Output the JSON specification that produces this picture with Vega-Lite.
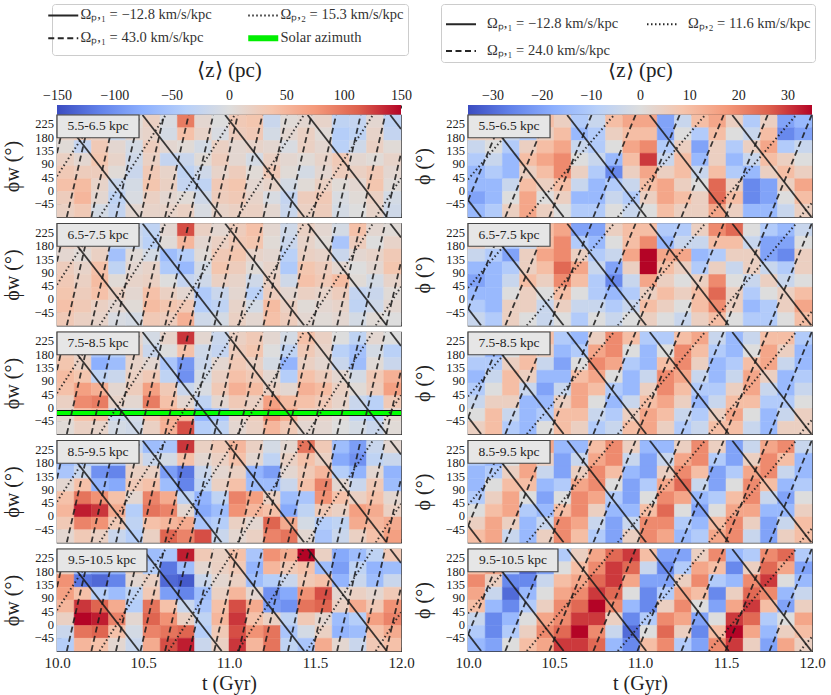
{
  "$schema": "https://vega.github.io/schema/vega-lite/v6.json",
  "background": "white",
  "padding": {"top": 3, "left": 1, "right": 2, "bottom": 3},
  "spacing": -3,
  "resolve": {"scale": {"fill": "independent", "stroke": "independent", "strokeDash": "independent"}},
  "config": {
    "font": "Liberation Serif",
    "view": {"stroke": "#333333", "strokeWidth": 1.2},
    "axis": {"labelFont": "Liberation Serif", "titleFont": "Liberation Serif", "labelColor": "#222222", "titleColor": "#222222", "titleFontWeight": "normal", "grid": false, "domain": false, "labelFlush": false, "tickColor": "#333333"},
    "legend": {"labelFont": "Liberation Serif"},
    "text": {"font": "Liberation Serif"}
  },
  "datasets": {
    "yticks": [{"v":-45},{"v":0},{"v":45},{"v":90},{"v":135},{"v":180},{"v":225}],
    "linesL": [
      {"k":"a","g":1,"t":10.0173,"f":257},{"k":"a","g":1,"t":10.4773,"f":-88},
      {"k":"a","g":2,"t":10.4973,"f":257},{"k":"a","g":2,"t":10.9573,"f":-88},
      {"k":"a","g":3,"t":10.9773,"f":257},{"k":"a","g":3,"t":11.4373,"f":-88},
      {"k":"a","g":4,"t":11.4573,"f":257},{"k":"a","g":4,"t":11.9173,"f":-88},
      {"k":"a","g":5,"t":11.9373,"f":257},{"k":"a","g":5,"t":12,"f":210},
      {"k":"b","g":6,"t":10,"f":128},{"k":"b","g":6,"t":10.0512,"f":257},
      {"k":"b","g":7,"t":10.0571,"f":-88},{"k":"b","g":7,"t":10.194,"f":257},
      {"k":"b","g":8,"t":10.2,"f":-88},{"k":"b","g":8,"t":10.3369,"f":257},
      {"k":"b","g":9,"t":10.3429,"f":-88},{"k":"b","g":9,"t":10.4797,"f":257},
      {"k":"b","g":10,"t":10.4857,"f":-88},{"k":"b","g":10,"t":10.6226,"f":257},
      {"k":"b","g":11,"t":10.6286,"f":-88},{"k":"b","g":11,"t":10.7654,"f":257},
      {"k":"b","g":12,"t":10.7714,"f":-88},{"k":"b","g":12,"t":10.9083,"f":257},
      {"k":"b","g":13,"t":10.9143,"f":-88},{"k":"b","g":13,"t":11.0511,"f":257},
      {"k":"b","g":14,"t":11.0571,"f":-88},{"k":"b","g":14,"t":11.194,"f":257},
      {"k":"b","g":15,"t":11.2,"f":-88},{"k":"b","g":15,"t":11.3369,"f":257},
      {"k":"b","g":16,"t":11.3429,"f":-88},{"k":"b","g":16,"t":11.4797,"f":257},
      {"k":"b","g":17,"t":11.4857,"f":-88},{"k":"b","g":17,"t":11.6226,"f":257},
      {"k":"b","g":18,"t":11.6286,"f":-88},{"k":"b","g":18,"t":11.7654,"f":257},
      {"k":"b","g":19,"t":11.7714,"f":-88},{"k":"b","g":19,"t":11.9083,"f":257},
      {"k":"b","g":20,"t":11.9143,"f":-88},{"k":"b","g":20,"t":12,"f":128},
      {"k":"c","g":21,"t":10,"f":50},{"k":"c","g":21,"t":10.2308,"f":257},
      {"k":"c","g":22,"t":10.2475,"f":-88},{"k":"c","g":22,"t":10.6321,"f":257},
      {"k":"c","g":23,"t":10.649,"f":-88},{"k":"c","g":23,"t":11.0336,"f":257},
      {"k":"c","g":24,"t":11.0505,"f":-88},{"k":"c","g":24,"t":11.4351,"f":257},
      {"k":"c","g":25,"t":11.452,"f":-88},{"k":"c","g":25,"t":11.8366,"f":257},
      {"k":"c","g":26,"t":11.8535,"f":-88},{"k":"c","g":26,"t":12,"f":43}
    ],
    "linesR": [
      {"k":"a","g":1,"t":10,"f":-31},{"k":"a","g":1,"t":10.0763,"f":-88},
      {"k":"a","g":2,"t":10.0963,"f":257},{"k":"a","g":2,"t":10.5563,"f":-88},
      {"k":"a","g":3,"t":10.5763,"f":257},{"k":"a","g":3,"t":11.0363,"f":-88},
      {"k":"a","g":4,"t":11.0563,"f":257},{"k":"a","g":4,"t":11.5163,"f":-88},
      {"k":"a","g":5,"t":11.5363,"f":257},{"k":"a","g":5,"t":11.9963,"f":-88},
      {"k":"b","g":6,"t":10,"f":-33},{"k":"b","g":6,"t":10.2064,"f":257},
      {"k":"b","g":7,"t":10.217,"f":-88},{"k":"b","g":7,"t":10.4624,"f":257},
      {"k":"b","g":8,"t":10.473,"f":-88},{"k":"b","g":8,"t":10.7184,"f":257},
      {"k":"b","g":9,"t":10.729,"f":-88},{"k":"b","g":9,"t":10.9744,"f":257},
      {"k":"b","g":10,"t":10.985,"f":-88},{"k":"b","g":10,"t":11.2304,"f":257},
      {"k":"b","g":11,"t":11.241,"f":-88},{"k":"b","g":11,"t":11.4864,"f":257},
      {"k":"b","g":12,"t":11.497,"f":-88},{"k":"b","g":12,"t":11.7424,"f":257},
      {"k":"b","g":13,"t":11.753,"f":-88},{"k":"b","g":13,"t":11.9984,"f":257},
      {"k":"c","g":14,"t":10,"f":39},{"k":"c","g":14,"t":10.32,"f":257},
      {"k":"c","g":15,"t":10.342,"f":-88},{"k":"c","g":15,"t":10.849,"f":257},
      {"k":"c","g":16,"t":10.871,"f":-88},{"k":"c","g":16,"t":11.379,"f":257},
      {"k":"c","g":17,"t":11.401,"f":-88},{"k":"c","g":17,"t":11.908,"f":257},
      {"k":"c","g":18,"t":11.93,"f":-88},{"k":"c","g":18,"t":12,"f":-40}
    ],
    "L1": [
      {"i":0,"j":7,"z":10},{"i":1,"j":7,"z":20},{"i":2,"j":7,"z":15},{"i":3,"j":7,"z":-10},{"i":4,"j":7,"z":5},{"i":5,"j":7,"z":20},{"i":6,"j":7,"z":-5},{"i":7,"j":7,"z":95},{"i":8,"j":7,"z":10},{"i":9,"j":7,"z":0},{"i":10,"j":7,"z":30},{"i":11,"j":7,"z":35},{"i":12,"j":7,"z":-20},{"i":13,"j":7,"z":5},{"i":14,"j":7,"z":10},{"i":15,"j":7,"z":15},{"i":16,"j":7,"z":-30},{"i":17,"j":7,"z":-25},{"i":18,"j":7,"z":10},{"i":19,"j":7,"z":-30},
      {"i":0,"j":6,"z":15},{"i":1,"j":6,"z":25},{"i":2,"j":6,"z":20},{"i":3,"j":6,"z":-15},{"i":4,"j":6,"z":10},{"i":5,"j":6,"z":15},{"i":6,"j":6,"z":-10},{"i":7,"j":6,"z":40},{"i":8,"j":6,"z":15},{"i":9,"j":6,"z":-5},{"i":10,"j":6,"z":25},{"i":11,"j":6,"z":30},{"i":12,"j":6,"z":-10},{"i":13,"j":6,"z":10},{"i":14,"j":6,"z":20},{"i":15,"j":6,"z":5},{"i":16,"j":6,"z":-40},{"i":17,"j":6,"z":-30},{"i":18,"j":6,"z":15},{"i":19,"j":6,"z":-25},
      {"i":0,"j":5,"z":5},{"i":1,"j":5,"z":-25},{"i":2,"j":5,"z":30},{"i":3,"j":5,"z":10},{"i":4,"j":5,"z":-10},{"i":5,"j":5,"z":25},{"i":6,"j":5,"z":10},{"i":7,"j":5,"z":5},{"i":8,"j":5,"z":-10},{"i":9,"j":5,"z":20},{"i":10,"j":5,"z":10},{"i":11,"j":5,"z":15},{"i":12,"j":5,"z":10},{"i":13,"j":5,"z":-5},{"i":14,"j":5,"z":20},{"i":15,"j":5,"z":10},{"i":16,"j":5,"z":-35},{"i":17,"j":5,"z":-15},{"i":18,"j":5,"z":20},{"i":19,"j":5,"z":5},
      {"i":0,"j":4,"z":20},{"i":1,"j":4,"z":10},{"i":2,"j":4,"z":35},{"i":3,"j":4,"z":15},{"i":4,"j":4,"z":-15},{"i":5,"j":4,"z":20},{"i":6,"j":4,"z":-25},{"i":7,"j":4,"z":-20},{"i":8,"j":4,"z":5},{"i":9,"j":4,"z":25},{"i":10,"j":4,"z":10},{"i":11,"j":4,"z":-10},{"i":12,"j":4,"z":20},{"i":13,"j":4,"z":10},{"i":14,"j":4,"z":5},{"i":15,"j":4,"z":15},{"i":16,"j":4,"z":30},{"i":17,"j":4,"z":10},{"i":18,"j":4,"z":5},{"i":19,"j":4,"z":15},
      {"i":0,"j":3,"z":30},{"i":1,"j":3,"z":25},{"i":2,"j":3,"z":25},{"i":3,"j":3,"z":5},{"i":4,"j":3,"z":-20},{"i":5,"j":3,"z":30},{"i":6,"j":3,"z":15},{"i":7,"j":3,"z":-30},{"i":8,"j":3,"z":-15},{"i":9,"j":3,"z":15},{"i":10,"j":3,"z":25},{"i":11,"j":3,"z":5},{"i":12,"j":3,"z":30},{"i":13,"j":3,"z":5},{"i":14,"j":3,"z":-10},{"i":15,"j":3,"z":10},{"i":16,"j":3,"z":25},{"i":17,"j":3,"z":20},{"i":18,"j":3,"z":30},{"i":19,"j":3,"z":10},
      {"i":0,"j":2,"z":40},{"i":1,"j":2,"z":45},{"i":2,"j":2,"z":15},{"i":3,"j":2,"z":-20},{"i":4,"j":2,"z":-10},{"i":5,"j":2,"z":35},{"i":6,"j":2,"z":20},{"i":7,"j":2,"z":-25},{"i":8,"j":2,"z":-30},{"i":9,"j":2,"z":30},{"i":10,"j":2,"z":35},{"i":11,"j":2,"z":10},{"i":12,"j":2,"z":15},{"i":13,"j":2,"z":-10},{"i":14,"j":2,"z":5},{"i":15,"j":2,"z":20},{"i":16,"j":2,"z":5},{"i":17,"j":2,"z":10},{"i":18,"j":2,"z":35},{"i":19,"j":2,"z":5},
      {"i":0,"j":1,"z":25},{"i":1,"j":1,"z":50},{"i":2,"j":1,"z":10},{"i":3,"j":1,"z":-30},{"i":4,"j":1,"z":-5},{"i":5,"j":1,"z":20},{"i":6,"j":1,"z":10},{"i":7,"j":1,"z":5},{"i":8,"j":1,"z":-15},{"i":9,"j":1,"z":25},{"i":10,"j":1,"z":30},{"i":11,"j":1,"z":15},{"i":12,"j":1,"z":-5},{"i":13,"j":1,"z":-25},{"i":14,"j":1,"z":25},{"i":15,"j":1,"z":30},{"i":16,"j":1,"z":-5},{"i":17,"j":1,"z":5},{"i":18,"j":1,"z":20},{"i":19,"j":1,"z":-10},
      {"i":0,"j":0,"z":20},{"i":1,"j":0,"z":30},{"i":2,"j":0,"z":-10},{"i":3,"j":0,"z":-25},{"i":4,"j":0,"z":10},{"i":5,"j":0,"z":15},{"i":6,"j":0,"z":15},{"i":7,"j":0,"z":20},{"i":8,"j":0,"z":-5},{"i":9,"j":0,"z":15},{"i":10,"j":0,"z":20},{"i":11,"j":0,"z":20},{"i":12,"j":0,"z":10},{"i":13,"j":0,"z":-20},{"i":14,"j":0,"z":20},{"i":15,"j":0,"z":25},{"i":16,"j":0,"z":-10},{"i":17,"j":0,"z":0},{"i":18,"j":0,"z":15},{"i":19,"j":0,"z":-15}
    ],
    "L2": [
      {"i":0,"j":7,"z":15},{"i":1,"j":7,"z":20},{"i":2,"j":7,"z":10},{"i":3,"j":7,"z":0},{"i":4,"j":7,"z":-20},{"i":5,"j":7,"z":-30},{"i":6,"j":7,"z":10},{"i":7,"j":7,"z":120},{"i":8,"j":7,"z":20},{"i":9,"j":7,"z":10},{"i":10,"j":7,"z":25},{"i":11,"j":7,"z":40},{"i":12,"j":7,"z":10},{"i":13,"j":7,"z":-15},{"i":14,"j":7,"z":20},{"i":15,"j":7,"z":10},{"i":16,"j":7,"z":-10},{"i":17,"j":7,"z":40},{"i":18,"j":7,"z":10},{"i":19,"j":7,"z":5},
      {"i":0,"j":6,"z":20},{"i":1,"j":6,"z":15},{"i":2,"j":6,"z":15},{"i":3,"j":6,"z":-25},{"i":4,"j":6,"z":-15},{"i":5,"j":6,"z":-35},{"i":6,"j":6,"z":5},{"i":7,"j":6,"z":50},{"i":8,"j":6,"z":10},{"i":9,"j":6,"z":20},{"i":10,"j":6,"z":30},{"i":11,"j":6,"z":35},{"i":12,"j":6,"z":5},{"i":13,"j":6,"z":-20},{"i":14,"j":6,"z":15},{"i":15,"j":6,"z":5},{"i":16,"j":6,"z":-50},{"i":17,"j":6,"z":25},{"i":18,"j":6,"z":0},{"i":19,"j":6,"z":15},
      {"i":0,"j":5,"z":10},{"i":1,"j":5,"z":5},{"i":2,"j":5,"z":20},{"i":3,"j":5,"z":-55},{"i":4,"j":5,"z":5},{"i":5,"j":5,"z":-10},{"i":6,"j":5,"z":-60},{"i":7,"j":5,"z":-40},{"i":8,"j":5,"z":5},{"i":9,"j":5,"z":30},{"i":10,"j":5,"z":35},{"i":11,"j":5,"z":15},{"i":12,"j":5,"z":10},{"i":13,"j":5,"z":-35},{"i":14,"j":5,"z":20},{"i":15,"j":5,"z":15},{"i":16,"j":5,"z":-20},{"i":17,"j":5,"z":10},{"i":18,"j":5,"z":15},{"i":19,"j":5,"z":30},
      {"i":0,"j":4,"z":25},{"i":1,"j":4,"z":15},{"i":2,"j":4,"z":40},{"i":3,"j":4,"z":-30},{"i":4,"j":4,"z":10},{"i":5,"j":4,"z":15},{"i":6,"j":4,"z":-45},{"i":7,"j":4,"z":-65},{"i":8,"j":4,"z":-10},{"i":9,"j":4,"z":35},{"i":10,"j":4,"z":25},{"i":11,"j":4,"z":5},{"i":12,"j":4,"z":15},{"i":13,"j":4,"z":-45},{"i":14,"j":4,"z":35},{"i":15,"j":4,"z":25},{"i":16,"j":4,"z":10},{"i":17,"j":4,"z":0},{"i":18,"j":4,"z":10},{"i":19,"j":4,"z":35},
      {"i":0,"j":3,"z":30},{"i":1,"j":3,"z":20},{"i":2,"j":3,"z":45},{"i":3,"j":3,"z":5},{"i":4,"j":3,"z":15},{"i":5,"j":3,"z":20},{"i":6,"j":3,"z":0},{"i":7,"j":3,"z":-25},{"i":8,"j":3,"z":-15},{"i":9,"j":3,"z":20},{"i":10,"j":3,"z":15},{"i":11,"j":3,"z":-15},{"i":12,"j":3,"z":20},{"i":13,"j":3,"z":-15},{"i":14,"j":3,"z":40},{"i":15,"j":3,"z":30},{"i":16,"j":3,"z":45},{"i":17,"j":3,"z":5},{"i":18,"j":3,"z":-10},{"i":19,"j":3,"z":15},
      {"i":0,"j":2,"z":35},{"i":1,"j":2,"z":25},{"i":2,"j":2,"z":40},{"i":3,"j":2,"z":20},{"i":4,"j":2,"z":10},{"i":5,"j":2,"z":40},{"i":6,"j":2,"z":20},{"i":7,"j":2,"z":10},{"i":8,"j":2,"z":-45},{"i":9,"j":2,"z":-20},{"i":10,"j":2,"z":10},{"i":11,"j":2,"z":-35},{"i":12,"j":2,"z":25},{"i":13,"j":2,"z":10},{"i":14,"j":2,"z":20},{"i":15,"j":2,"z":15},{"i":16,"j":2,"z":25},{"i":17,"j":2,"z":-25},{"i":18,"j":2,"z":-20},{"i":19,"j":2,"z":5},
      {"i":0,"j":1,"z":40},{"i":1,"j":1,"z":30},{"i":2,"j":1,"z":20},{"i":3,"j":1,"z":10},{"i":4,"j":1,"z":5},{"i":5,"j":1,"z":45},{"i":6,"j":1,"z":35},{"i":7,"j":1,"z":30},{"i":8,"j":1,"z":-40},{"i":9,"j":1,"z":-30},{"i":10,"j":1,"z":15},{"i":11,"j":1,"z":-10},{"i":12,"j":1,"z":45},{"i":13,"j":1,"z":20},{"i":14,"j":1,"z":5},{"i":15,"j":1,"z":10},{"i":16,"j":1,"z":15},{"i":17,"j":1,"z":-30},{"i":18,"j":1,"z":-15},{"i":19,"j":1,"z":10},
      {"i":0,"j":0,"z":30},{"i":1,"j":0,"z":20},{"i":2,"j":0,"z":15},{"i":3,"j":0,"z":-5},{"i":4,"j":0,"z":-10},{"i":5,"j":0,"z":30},{"i":6,"j":0,"z":25},{"i":7,"j":0,"z":55},{"i":8,"j":0,"z":-15},{"i":9,"j":0,"z":-10},{"i":10,"j":0,"z":20},{"i":11,"j":0,"z":10},{"i":12,"j":0,"z":40},{"i":13,"j":0,"z":25},{"i":14,"j":0,"z":10},{"i":15,"j":0,"z":5},{"i":16,"j":0,"z":10},{"i":17,"j":0,"z":-10},{"i":18,"j":0,"z":5},{"i":19,"j":0,"z":0}
    ],
    "L3": [
      {"i":0,"j":7,"z":20},{"i":1,"j":7,"z":10},{"i":2,"j":7,"z":-10},{"i":3,"j":7,"z":-20},{"i":4,"j":7,"z":10},{"i":5,"j":7,"z":-10},{"i":6,"j":7,"z":15},{"i":7,"j":7,"z":130},{"i":8,"j":7,"z":10},{"i":9,"j":7,"z":-20},{"i":10,"j":7,"z":20},{"i":11,"j":7,"z":30},{"i":12,"j":7,"z":10},{"i":13,"j":7,"z":-10},{"i":14,"j":7,"z":40},{"i":15,"j":7,"z":20},{"i":16,"j":7,"z":0},{"i":17,"j":7,"z":-30},{"i":18,"j":7,"z":10},{"i":19,"j":7,"z":0},
      {"i":0,"j":6,"z":30},{"i":1,"j":6,"z":15},{"i":2,"j":6,"z":-50},{"i":3,"j":6,"z":-40},{"i":4,"j":6,"z":20},{"i":5,"j":6,"z":-20},{"i":6,"j":6,"z":0},{"i":7,"j":6,"z":40},{"i":8,"j":6,"z":-15},{"i":9,"j":6,"z":-25},{"i":10,"j":6,"z":25},{"i":11,"j":6,"z":35},{"i":12,"j":6,"z":0},{"i":13,"j":6,"z":-30},{"i":14,"j":6,"z":30},{"i":15,"j":6,"z":15},{"i":16,"j":6,"z":-35},{"i":17,"j":6,"z":-55},{"i":18,"j":6,"z":-10},{"i":19,"j":6,"z":-35},
      {"i":0,"j":5,"z":35},{"i":1,"j":5,"z":20},{"i":2,"j":5,"z":-75},{"i":3,"j":5,"z":-60},{"i":4,"j":5,"z":15},{"i":5,"j":5,"z":10},{"i":6,"j":5,"z":-50},{"i":7,"j":5,"z":-95},{"i":8,"j":5,"z":-20},{"i":9,"j":5,"z":10},{"i":10,"j":5,"z":30},{"i":11,"j":5,"z":20},{"i":12,"j":5,"z":-10},{"i":13,"j":5,"z":-70},{"i":14,"j":5,"z":20},{"i":15,"j":5,"z":10},{"i":16,"j":5,"z":-20},{"i":17,"j":5,"z":-60},{"i":18,"j":5,"z":5},{"i":19,"j":5,"z":-20},
      {"i":0,"j":4,"z":45},{"i":1,"j":4,"z":35},{"i":2,"j":4,"z":-30},{"i":3,"j":4,"z":-20},{"i":4,"j":4,"z":20},{"i":5,"j":4,"z":30},{"i":6,"j":4,"z":-30},{"i":7,"j":4,"z":-100},{"i":8,"j":4,"z":-10},{"i":9,"j":4,"z":20},{"i":10,"j":4,"z":40},{"i":11,"j":4,"z":30},{"i":12,"j":4,"z":10},{"i":13,"j":4,"z":-40},{"i":14,"j":4,"z":40},{"i":15,"j":4,"z":25},{"i":16,"j":4,"z":10},{"i":17,"j":4,"z":-10},{"i":18,"j":4,"z":30},{"i":19,"j":4,"z":55},
      {"i":0,"j":3,"z":40},{"i":1,"j":3,"z":70},{"i":2,"j":3,"z":55},{"i":3,"j":3,"z":10},{"i":4,"j":3,"z":25},{"i":5,"j":3,"z":70},{"i":6,"j":3,"z":30},{"i":7,"j":3,"z":-20},{"i":8,"j":3,"z":-5},{"i":9,"j":3,"z":30},{"i":10,"j":3,"z":55},{"i":11,"j":3,"z":45},{"i":12,"j":3,"z":20},{"i":13,"j":3,"z":10},{"i":14,"j":3,"z":55},{"i":15,"j":3,"z":45},{"i":16,"j":3,"z":20},{"i":17,"j":3,"z":5},{"i":18,"j":3,"z":25},{"i":19,"j":3,"z":70},
      {"i":0,"j":2,"z":20},{"i":1,"j":2,"z":85},{"i":2,"j":2,"z":95},{"i":3,"j":2,"z":15},{"i":4,"j":2,"z":10},{"i":5,"j":2,"z":95},{"i":6,"j":2,"z":40},{"i":7,"j":2,"z":10},{"i":8,"j":2,"z":-30},{"i":9,"j":2,"z":10},{"i":10,"j":2,"z":30},{"i":11,"j":2,"z":20},{"i":12,"j":2,"z":70},{"i":13,"j":2,"z":45},{"i":14,"j":2,"z":40},{"i":15,"j":2,"z":30},{"i":16,"j":2,"z":15},{"i":17,"j":2,"z":-20},{"i":18,"j":2,"z":-35},{"i":19,"j":2,"z":30},
      {"i":0,"j":1,"z":10},{"i":1,"j":1,"z":40},{"i":2,"j":1,"z":50},{"i":3,"j":1,"z":-20},{"i":4,"j":1,"z":-10},{"i":5,"j":1,"z":40},{"i":6,"j":1,"z":60},{"i":7,"j":1,"z":50},{"i":8,"j":1,"z":-70},{"i":9,"j":1,"z":-50},{"i":10,"j":1,"z":15},{"i":11,"j":1,"z":25},{"i":12,"j":1,"z":85},{"i":13,"j":1,"z":60},{"i":14,"j":1,"z":20},{"i":15,"j":1,"z":15},{"i":16,"j":1,"z":5},{"i":17,"j":1,"z":-25},{"i":18,"j":1,"z":-40},{"i":19,"j":1,"z":10},
      {"i":0,"j":0,"z":5},{"i":1,"j":0,"z":20},{"i":2,"j":0,"z":15},{"i":3,"j":0,"z":-10},{"i":4,"j":0,"z":-15},{"i":5,"j":0,"z":20},{"i":6,"j":0,"z":55},{"i":7,"j":0,"z":120},{"i":8,"j":0,"z":-40},{"i":9,"j":0,"z":-30},{"i":10,"j":0,"z":10},{"i":11,"j":0,"z":20},{"i":12,"j":0,"z":50},{"i":13,"j":0,"z":30},{"i":14,"j":0,"z":10},{"i":15,"j":0,"z":10},{"i":16,"j":0,"z":0},{"i":17,"j":0,"z":-10},{"i":18,"j":0,"z":-20},{"i":19,"j":0,"z":5}
    ],
    "L4": [
      {"i":0,"j":7,"z":-20},{"i":1,"j":7,"z":-30},{"i":2,"j":7,"z":10},{"i":3,"j":7,"z":20},{"i":4,"j":7,"z":-20},{"i":5,"j":7,"z":-60},{"i":6,"j":7,"z":-50},{"i":7,"j":7,"z":130},{"i":8,"j":7,"z":20},{"i":9,"j":7,"z":30},{"i":10,"j":7,"z":50},{"i":11,"j":7,"z":20},{"i":12,"j":7,"z":-10},{"i":13,"j":7,"z":10},{"i":14,"j":7,"z":100},{"i":15,"j":7,"z":30},{"i":16,"j":7,"z":-60},{"i":17,"j":7,"z":-90},{"i":18,"j":7,"z":-20},{"i":19,"j":7,"z":10},
      {"i":0,"j":6,"z":-60},{"i":1,"j":6,"z":-40},{"i":2,"j":6,"z":-30},{"i":3,"j":6,"z":-50},{"i":4,"j":6,"z":10},{"i":5,"j":6,"z":-20},{"i":6,"j":6,"z":-10},{"i":7,"j":6,"z":40},{"i":8,"j":6,"z":10},{"i":9,"j":6,"z":20},{"i":10,"j":6,"z":40},{"i":11,"j":6,"z":10},{"i":12,"j":6,"z":-30},{"i":13,"j":6,"z":20},{"i":14,"j":6,"z":40},{"i":15,"j":6,"z":20},{"i":16,"j":6,"z":-80},{"i":17,"j":6,"z":-100},{"i":18,"j":6,"z":-30},{"i":19,"j":6,"z":-20},
      {"i":0,"j":5,"z":-50},{"i":1,"j":5,"z":-20},{"i":2,"j":5,"z":-100},{"i":3,"j":5,"z":-110},{"i":4,"j":5,"z":20},{"i":5,"j":5,"z":20},{"i":6,"j":5,"z":-90},{"i":7,"j":5,"z":-120},{"i":8,"j":5,"z":-20},{"i":9,"j":5,"z":10},{"i":10,"j":5,"z":20},{"i":11,"j":5,"z":-70},{"i":12,"j":5,"z":-90},{"i":13,"j":5,"z":10},{"i":14,"j":5,"z":30},{"i":15,"j":5,"z":50},{"i":16,"j":5,"z":-40},{"i":17,"j":5,"z":-70},{"i":18,"j":5,"z":10},{"i":19,"j":5,"z":-70},
      {"i":0,"j":4,"z":10},{"i":1,"j":4,"z":40},{"i":2,"j":4,"z":-70},{"i":3,"j":4,"z":-80},{"i":4,"j":4,"z":30},{"i":5,"j":4,"z":40},{"i":6,"j":4,"z":-60},{"i":7,"j":4,"z":-110},{"i":8,"j":4,"z":-30},{"i":9,"j":4,"z":20},{"i":10,"j":4,"z":40},{"i":11,"j":4,"z":-60},{"i":12,"j":4,"z":-60},{"i":13,"j":4,"z":-20},{"i":14,"j":4,"z":40},{"i":15,"j":4,"z":90},{"i":16,"j":4,"z":10},{"i":17,"j":4,"z":-20},{"i":18,"j":4,"z":30},{"i":19,"j":4,"z":-60},
      {"i":0,"j":3,"z":40},{"i":1,"j":3,"z":100},{"i":2,"j":3,"z":80},{"i":3,"j":3,"z":40},{"i":4,"j":3,"z":10},{"i":5,"j":3,"z":90},{"i":6,"j":3,"z":60},{"i":7,"j":3,"z":-30},{"i":8,"j":3,"z":-70},{"i":9,"j":3,"z":-30},{"i":10,"j":3,"z":90},{"i":11,"j":3,"z":70},{"i":12,"j":3,"z":20},{"i":13,"j":3,"z":-60},{"i":14,"j":3,"z":-50},{"i":15,"j":3,"z":80},{"i":16,"j":3,"z":40},{"i":17,"j":3,"z":20},{"i":18,"j":3,"z":40},{"i":19,"j":3,"z":10},
      {"i":0,"j":2,"z":50},{"i":1,"j":2,"z":140},{"i":2,"j":2,"z":130},{"i":3,"j":2,"z":60},{"i":4,"j":2,"z":-40},{"i":5,"j":2,"z":100},{"i":6,"j":2,"z":90},{"i":7,"j":2,"z":10},{"i":8,"j":2,"z":-80},{"i":9,"j":2,"z":-60},{"i":10,"j":2,"z":80},{"i":11,"j":2,"z":50},{"i":12,"j":2,"z":40},{"i":13,"j":2,"z":-80},{"i":14,"j":2,"z":-30},{"i":15,"j":2,"z":30},{"i":16,"j":2,"z":20},{"i":17,"j":2,"z":70},{"i":18,"j":2,"z":60},{"i":19,"j":2,"z":20},
      {"i":0,"j":1,"z":30},{"i":1,"j":1,"z":90},{"i":2,"j":1,"z":80},{"i":3,"j":1,"z":30},{"i":4,"j":1,"z":-30},{"i":5,"j":1,"z":40},{"i":6,"j":1,"z":50},{"i":7,"j":1,"z":60},{"i":8,"j":1,"z":-50},{"i":9,"j":1,"z":-40},{"i":10,"j":1,"z":20},{"i":11,"j":1,"z":10},{"i":12,"j":1,"z":110},{"i":13,"j":1,"z":60},{"i":14,"j":1,"z":-10},{"i":15,"j":1,"z":-40},{"i":16,"j":1,"z":-30},{"i":17,"j":1,"z":60},{"i":18,"j":1,"z":50},{"i":19,"j":1,"z":60},
      {"i":0,"j":0,"z":10},{"i":1,"j":0,"z":30},{"i":2,"j":0,"z":20},{"i":3,"j":0,"z":-20},{"i":4,"j":0,"z":-40},{"i":5,"j":0,"z":20},{"i":6,"j":0,"z":110},{"i":7,"j":0,"z":90},{"i":8,"j":0,"z":120},{"i":9,"j":0,"z":-20},{"i":10,"j":0,"z":10},{"i":11,"j":0,"z":20},{"i":12,"j":0,"z":90},{"i":13,"j":0,"z":100},{"i":14,"j":0,"z":10},{"i":15,"j":0,"z":-50},{"i":16,"j":0,"z":-20},{"i":17,"j":0,"z":20},{"i":18,"j":0,"z":40},{"i":19,"j":0,"z":70}
    ],
    "L5": [
      {"i":0,"j":7,"z":10},{"i":1,"j":7,"z":-20},{"i":2,"j":7,"z":-30},{"i":3,"j":7,"z":-10},{"i":4,"j":7,"z":-20},{"i":5,"j":7,"z":-60},{"i":6,"j":7,"z":-50},{"i":7,"j":7,"z":140},{"i":8,"j":7,"z":30},{"i":9,"j":7,"z":20},{"i":10,"j":7,"z":40},{"i":11,"j":7,"z":-50},{"i":12,"j":7,"z":80},{"i":13,"j":7,"z":60},{"i":14,"j":7,"z":150},{"i":15,"j":7,"z":20},{"i":16,"j":7,"z":-80},{"i":17,"j":7,"z":-60},{"i":18,"j":7,"z":-30},{"i":19,"j":7,"z":30},
      {"i":0,"j":6,"z":20},{"i":1,"j":6,"z":-60},{"i":2,"j":6,"z":-80},{"i":3,"j":6,"z":-70},{"i":4,"j":6,"z":20},{"i":5,"j":6,"z":-40},{"i":6,"j":6,"z":-120},{"i":7,"j":6,"z":-60},{"i":8,"j":6,"z":10},{"i":9,"j":6,"z":20},{"i":10,"j":6,"z":30},{"i":11,"j":6,"z":-70},{"i":12,"j":6,"z":50},{"i":13,"j":6,"z":30},{"i":14,"j":6,"z":40},{"i":15,"j":6,"z":-60},{"i":16,"j":6,"z":-90},{"i":17,"j":6,"z":-30},{"i":18,"j":6,"z":-70},{"i":19,"j":6,"z":-60},
      {"i":0,"j":5,"z":80},{"i":1,"j":5,"z":-120},{"i":2,"j":5,"z":-130},{"i":3,"j":5,"z":-110},{"i":4,"j":5,"z":10},{"i":5,"j":5,"z":20},{"i":6,"j":5,"z":-130},{"i":7,"j":5,"z":-140},{"i":8,"j":5,"z":-20},{"i":9,"j":5,"z":10},{"i":10,"j":5,"z":20},{"i":11,"j":5,"z":-60},{"i":12,"j":5,"z":-40},{"i":13,"j":5,"z":-20},{"i":14,"j":5,"z":30},{"i":15,"j":5,"z":40},{"i":16,"j":5,"z":-70},{"i":17,"j":5,"z":-20},{"i":18,"j":5,"z":-60},{"i":19,"j":5,"z":-20},
      {"i":0,"j":4,"z":70},{"i":1,"j":4,"z":40},{"i":2,"j":4,"z":-40},{"i":3,"j":4,"z":-60},{"i":4,"j":4,"z":-30},{"i":5,"j":4,"z":30},{"i":6,"j":4,"z":-90},{"i":7,"j":4,"z":-110},{"i":8,"j":4,"z":-60},{"i":9,"j":4,"z":20},{"i":10,"j":4,"z":50},{"i":11,"j":4,"z":10},{"i":12,"j":4,"z":-100},{"i":13,"j":4,"z":-80},{"i":14,"j":4,"z":80},{"i":15,"j":4,"z":120},{"i":16,"j":4,"z":10},{"i":17,"j":4,"z":20},{"i":18,"j":4,"z":10},{"i":19,"j":4,"z":30},
      {"i":0,"j":3,"z":50},{"i":1,"j":3,"z":130},{"i":2,"j":3,"z":110},{"i":3,"j":3,"z":60},{"i":4,"j":3,"z":-40},{"i":5,"j":3,"z":100},{"i":6,"j":3,"z":40},{"i":7,"j":3,"z":-20},{"i":8,"j":3,"z":-50},{"i":9,"j":3,"z":40},{"i":10,"j":3,"z":120},{"i":11,"j":3,"z":60},{"i":12,"j":3,"z":-90},{"i":13,"j":3,"z":-100},{"i":14,"j":3,"z":100},{"i":15,"j":3,"z":110},{"i":16,"j":3,"z":20},{"i":17,"j":3,"z":60},{"i":18,"j":3,"z":30},{"i":19,"j":3,"z":80},
      {"i":0,"j":2,"z":20},{"i":1,"j":2,"z":150},{"i":2,"j":2,"z":140},{"i":3,"j":2,"z":90},{"i":4,"j":2,"z":10},{"i":5,"j":2,"z":110},{"i":6,"j":2,"z":80},{"i":7,"j":2,"z":20},{"i":8,"j":2,"z":-30},{"i":9,"j":2,"z":50},{"i":10,"j":2,"z":130},{"i":11,"j":2,"z":40},{"i":12,"j":2,"z":20},{"i":13,"j":2,"z":-30},{"i":14,"j":2,"z":30},{"i":15,"j":2,"z":10},{"i":16,"j":2,"z":-60},{"i":17,"j":2,"z":-40},{"i":18,"j":2,"z":70},{"i":19,"j":2,"z":90},
      {"i":0,"j":1,"z":-20},{"i":1,"j":1,"z":100},{"i":2,"j":1,"z":110},{"i":3,"j":1,"z":40},{"i":4,"j":1,"z":-10},{"i":5,"j":1,"z":90},{"i":6,"j":1,"z":100},{"i":7,"j":1,"z":110},{"i":8,"j":1,"z":-40},{"i":9,"j":1,"z":30},{"i":10,"j":1,"z":120},{"i":11,"j":1,"z":80},{"i":12,"j":1,"z":100},{"i":13,"j":1,"z":-50},{"i":14,"j":1,"z":-10},{"i":15,"j":1,"z":20},{"i":16,"j":1,"z":-70},{"i":17,"j":1,"z":-60},{"i":18,"j":1,"z":40},{"i":19,"j":1,"z":60},
      {"i":0,"j":0,"z":-40},{"i":1,"j":0,"z":50},{"i":2,"j":0,"z":40},{"i":3,"j":0,"z":10},{"i":4,"j":0,"z":-20},{"i":5,"j":0,"z":60},{"i":6,"j":0,"z":120},{"i":7,"j":0,"z":140},{"i":8,"j":0,"z":-20},{"i":9,"j":0,"z":20},{"i":10,"j":0,"z":130},{"i":11,"j":0,"z":50},{"i":12,"j":0,"z":100},{"i":13,"j":0,"z":-30},{"i":14,"j":0,"z":-50},{"i":15,"j":0,"z":60},{"i":16,"j":0,"z":10},{"i":17,"j":0,"z":-20},{"i":18,"j":0,"z":30},{"i":19,"j":0,"z":40}
    ],
    "R1": [
      {"i":0,"j":7,"z":5},{"i":1,"j":7,"z":10},{"i":2,"j":7,"z":5},{"i":3,"j":7,"z":-5},{"i":4,"j":7,"z":10},{"i":5,"j":7,"z":5},{"i":6,"j":7,"z":-10},{"i":7,"j":7,"z":-5},{"i":8,"j":7,"z":10},{"i":9,"j":7,"z":15},{"i":10,"j":7,"z":15},{"i":11,"j":7,"z":-20},{"i":12,"j":7,"z":-5},{"i":13,"j":7,"z":10},{"i":14,"j":7,"z":15},{"i":15,"j":7,"z":5},{"i":16,"j":7,"z":-10},{"i":17,"j":7,"z":5},{"i":18,"j":7,"z":-20},{"i":19,"j":7,"z":-15},
      {"i":0,"j":6,"z":5},{"i":1,"j":6,"z":5},{"i":2,"j":6,"z":-5},{"i":3,"j":6,"z":-10},{"i":4,"j":6,"z":5},{"i":5,"j":6,"z":10},{"i":6,"j":6,"z":-15},{"i":7,"j":6,"z":-10},{"i":8,"j":6,"z":5},{"i":9,"j":6,"z":10},{"i":10,"j":6,"z":10},{"i":11,"j":6,"z":-20},{"i":12,"j":6,"z":0},{"i":13,"j":6,"z":-10},{"i":14,"j":6,"z":10},{"i":15,"j":6,"z":0},{"i":16,"j":6,"z":-5},{"i":17,"j":6,"z":10},{"i":18,"j":6,"z":-25},{"i":19,"j":6,"z":-20},
      {"i":0,"j":5,"z":-5},{"i":1,"j":5,"z":0},{"i":2,"j":5,"z":-10},{"i":3,"j":5,"z":5},{"i":4,"j":5,"z":10},{"i":5,"j":5,"z":15},{"i":6,"j":5,"z":-5},{"i":7,"j":5,"z":-10},{"i":8,"j":5,"z":0},{"i":9,"j":5,"z":15},{"i":10,"j":5,"z":20},{"i":11,"j":5,"z":-10},{"i":12,"j":5,"z":5},{"i":13,"j":5,"z":-20},{"i":14,"j":5,"z":5},{"i":15,"j":5,"z":-10},{"i":16,"j":5,"z":5},{"i":17,"j":5,"z":15},{"i":18,"j":5,"z":-10},{"i":19,"j":5,"z":-5},
      {"i":0,"j":4,"z":-10},{"i":1,"j":4,"z":-5},{"i":2,"j":4,"z":-15},{"i":3,"j":4,"z":10},{"i":4,"j":4,"z":15},{"i":5,"j":4,"z":20},{"i":6,"j":4,"z":0},{"i":7,"j":4,"z":-5},{"i":8,"j":4,"z":-15},{"i":9,"j":4,"z":10},{"i":10,"j":4,"z":30},{"i":11,"j":4,"z":-5},{"i":12,"j":4,"z":10},{"i":13,"j":4,"z":-15},{"i":14,"j":4,"z":5},{"i":15,"j":4,"z":-15},{"i":16,"j":4,"z":-5},{"i":17,"j":4,"z":10},{"i":18,"j":4,"z":5},{"i":19,"j":4,"z":0},
      {"i":0,"j":3,"z":-15},{"i":1,"j":3,"z":-10},{"i":2,"j":3,"z":-15},{"i":3,"j":3,"z":5},{"i":4,"j":3,"z":10},{"i":5,"j":3,"z":20},{"i":6,"j":3,"z":5},{"i":7,"j":3,"z":-10},{"i":8,"j":3,"z":-25},{"i":9,"j":3,"z":5},{"i":10,"j":3,"z":15},{"i":11,"j":3,"z":5},{"i":12,"j":3,"z":10},{"i":13,"j":3,"z":-5},{"i":14,"j":3,"z":10},{"i":15,"j":3,"z":-10},{"i":16,"j":3,"z":-15},{"i":17,"j":3,"z":5},{"i":18,"j":3,"z":10},{"i":19,"j":3,"z":5},
      {"i":0,"j":2,"z":-15},{"i":1,"j":2,"z":-15},{"i":2,"j":2,"z":-5},{"i":3,"j":2,"z":10},{"i":4,"j":2,"z":5},{"i":5,"j":2,"z":10},{"i":6,"j":2,"z":-5},{"i":7,"j":2,"z":-15},{"i":8,"j":2,"z":-10},{"i":9,"j":2,"z":-5},{"i":10,"j":2,"z":10},{"i":11,"j":2,"z":15},{"i":12,"j":2,"z":5},{"i":13,"j":2,"z":0},{"i":14,"j":2,"z":25},{"i":15,"j":2,"z":5},{"i":16,"j":2,"z":-25},{"i":17,"j":2,"z":-20},{"i":18,"j":2,"z":5},{"i":19,"j":2,"z":15},
      {"i":0,"j":1,"z":-20},{"i":1,"j":1,"z":-15},{"i":2,"j":1,"z":0},{"i":3,"j":1,"z":15},{"i":4,"j":1,"z":0},{"i":5,"j":1,"z":5},{"i":6,"j":1,"z":-15},{"i":7,"j":1,"z":-15},{"i":8,"j":1,"z":-5},{"i":9,"j":1,"z":-10},{"i":10,"j":1,"z":5},{"i":11,"j":1,"z":15},{"i":12,"j":1,"z":10},{"i":13,"j":1,"z":5},{"i":14,"j":1,"z":25},{"i":15,"j":1,"z":10},{"i":16,"j":1,"z":-25},{"i":17,"j":1,"z":-20},{"i":18,"j":1,"z":0},{"i":19,"j":1,"z":10},
      {"i":0,"j":0,"z":-15},{"i":1,"j":0,"z":-10},{"i":2,"j":0,"z":5},{"i":3,"j":0,"z":15},{"i":4,"j":0,"z":5},{"i":5,"j":0,"z":0},{"i":6,"j":0,"z":-10},{"i":7,"j":0,"z":-10},{"i":8,"j":0,"z":0},{"i":9,"j":0,"z":-5},{"i":10,"j":0,"z":0},{"i":11,"j":0,"z":10},{"i":12,"j":0,"z":5},{"i":13,"j":0,"z":5},{"i":14,"j":0,"z":15},{"i":15,"j":0,"z":5},{"i":16,"j":0,"z":-15},{"i":17,"j":0,"z":-15},{"i":18,"j":0,"z":-5},{"i":19,"j":0,"z":5}
    ],
    "R2": [
      {"i":0,"j":7,"z":10},{"i":1,"j":7,"z":5},{"i":2,"j":7,"z":-5},{"i":3,"j":7,"z":0},{"i":4,"j":7,"z":10},{"i":5,"j":7,"z":15},{"i":6,"j":7,"z":-20},{"i":7,"j":7,"z":-20},{"i":8,"j":7,"z":5},{"i":9,"j":7,"z":10},{"i":10,"j":7,"z":10},{"i":11,"j":7,"z":-10},{"i":12,"j":7,"z":-10},{"i":13,"j":7,"z":5},{"i":14,"j":7,"z":20},{"i":15,"j":7,"z":25},{"i":16,"j":7,"z":0},{"i":17,"j":7,"z":-10},{"i":18,"j":7,"z":-15},{"i":19,"j":7,"z":-5},
      {"i":0,"j":6,"z":5},{"i":1,"j":6,"z":0},{"i":2,"j":6,"z":-10},{"i":3,"j":6,"z":-5},{"i":4,"j":6,"z":10},{"i":5,"j":6,"z":20},{"i":6,"j":6,"z":-10},{"i":7,"j":6,"z":-15},{"i":8,"j":6,"z":0},{"i":9,"j":6,"z":10},{"i":10,"j":6,"z":20},{"i":11,"j":6,"z":-15},{"i":12,"j":6,"z":-5},{"i":13,"j":6,"z":-5},{"i":14,"j":6,"z":10},{"i":15,"j":6,"z":10},{"i":16,"j":6,"z":-5},{"i":17,"j":6,"z":-20},{"i":18,"j":6,"z":-20},{"i":19,"j":6,"z":0},
      {"i":0,"j":5,"z":-5},{"i":1,"j":5,"z":-10},{"i":2,"j":5,"z":-20},{"i":3,"j":5,"z":5},{"i":4,"j":5,"z":15},{"i":5,"j":5,"z":20},{"i":6,"j":5,"z":5},{"i":7,"j":5,"z":-10},{"i":8,"j":5,"z":-5},{"i":9,"j":5,"z":15},{"i":10,"j":5,"z":35},{"i":11,"j":5,"z":15},{"i":12,"j":5,"z":15},{"i":13,"j":5,"z":-15},{"i":14,"j":5,"z":-10},{"i":15,"j":5,"z":5},{"i":16,"j":5,"z":5},{"i":17,"j":5,"z":-20},{"i":18,"j":5,"z":-25},{"i":19,"j":5,"z":5},
      {"i":0,"j":4,"z":-15},{"i":1,"j":4,"z":-15},{"i":2,"j":4,"z":-10},{"i":3,"j":4,"z":5},{"i":4,"j":4,"z":10},{"i":5,"j":4,"z":25},{"i":6,"j":4,"z":15},{"i":7,"j":4,"z":-5},{"i":8,"j":4,"z":-20},{"i":9,"j":4,"z":5},{"i":10,"j":4,"z":35},{"i":11,"j":4,"z":10},{"i":12,"j":4,"z":5},{"i":13,"j":4,"z":-10},{"i":14,"j":4,"z":5},{"i":15,"j":4,"z":-5},{"i":16,"j":4,"z":5},{"i":17,"j":4,"z":-5},{"i":18,"j":4,"z":-10},{"i":19,"j":4,"z":5},
      {"i":0,"j":3,"z":-20},{"i":1,"j":3,"z":-15},{"i":2,"j":3,"z":-5},{"i":3,"j":3,"z":10},{"i":4,"j":3,"z":5},{"i":5,"j":3,"z":20},{"i":6,"j":3,"z":10},{"i":7,"j":3,"z":-10},{"i":8,"j":3,"z":-25},{"i":9,"j":3,"z":-5},{"i":10,"j":3,"z":15},{"i":11,"j":3,"z":5},{"i":12,"j":3,"z":0},{"i":13,"j":3,"z":5},{"i":14,"j":3,"z":20},{"i":15,"j":3,"z":0},{"i":16,"j":3,"z":-5},{"i":17,"j":3,"z":5},{"i":18,"j":3,"z":-5},{"i":19,"j":3,"z":0},
      {"i":0,"j":2,"z":-15},{"i":1,"j":2,"z":-15},{"i":2,"j":2,"z":0},{"i":3,"j":2,"z":5},{"i":4,"j":2,"z":0},{"i":5,"j":2,"z":10},{"i":6,"j":2,"z":0},{"i":7,"j":2,"z":-10},{"i":8,"j":2,"z":-15},{"i":9,"j":2,"z":-10},{"i":10,"j":2,"z":5},{"i":11,"j":2,"z":10},{"i":12,"j":2,"z":5},{"i":13,"j":2,"z":10},{"i":14,"j":2,"z":25},{"i":15,"j":2,"z":5},{"i":16,"j":2,"z":-10},{"i":17,"j":2,"z":0},{"i":18,"j":2,"z":5},{"i":19,"j":2,"z":10},
      {"i":0,"j":1,"z":-10},{"i":1,"j":1,"z":-15},{"i":2,"j":1,"z":5},{"i":3,"j":1,"z":5},{"i":4,"j":1,"z":-5},{"i":5,"j":1,"z":5},{"i":6,"j":1,"z":-5},{"i":7,"j":1,"z":-5},{"i":8,"j":1,"z":-10},{"i":9,"j":1,"z":-5},{"i":10,"j":1,"z":10},{"i":11,"j":1,"z":5},{"i":12,"j":1,"z":0},{"i":13,"j":1,"z":10},{"i":14,"j":1,"z":20},{"i":15,"j":1,"z":5},{"i":16,"j":1,"z":-15},{"i":17,"j":1,"z":-10},{"i":18,"j":1,"z":5},{"i":19,"j":1,"z":15},
      {"i":0,"j":0,"z":-5},{"i":1,"j":0,"z":-10},{"i":2,"j":0,"z":5},{"i":3,"j":0,"z":0},{"i":4,"j":0,"z":-5},{"i":5,"j":0,"z":0},{"i":6,"j":0,"z":-10},{"i":7,"j":0,"z":0},{"i":8,"j":0,"z":-5},{"i":9,"j":0,"z":0},{"i":10,"j":0,"z":5},{"i":11,"j":0,"z":0},{"i":12,"j":0,"z":-5},{"i":13,"j":0,"z":5},{"i":14,"j":0,"z":10},{"i":15,"j":0,"z":0},{"i":16,"j":0,"z":-10},{"i":17,"j":0,"z":-10},{"i":18,"j":0,"z":0},{"i":19,"j":0,"z":10}
    ],
    "R3": [
      {"i":0,"j":7,"z":0},{"i":1,"j":7,"z":-10},{"i":2,"j":7,"z":-5},{"i":3,"j":7,"z":5},{"i":4,"j":7,"z":10},{"i":5,"j":7,"z":-10},{"i":6,"j":7,"z":-15},{"i":7,"j":7,"z":5},{"i":8,"j":7,"z":20},{"i":9,"j":7,"z":10},{"i":10,"j":7,"z":-10},{"i":11,"j":7,"z":-10},{"i":12,"j":7,"z":10},{"i":13,"j":7,"z":15},{"i":14,"j":7,"z":-5},{"i":15,"j":7,"z":-15},{"i":16,"j":7,"z":-5},{"i":17,"j":7,"z":10},{"i":18,"j":7,"z":10},{"i":19,"j":7,"z":-10},
      {"i":0,"j":6,"z":-5},{"i":1,"j":6,"z":-15},{"i":2,"j":6,"z":0},{"i":3,"j":6,"z":10},{"i":4,"j":6,"z":5},{"i":5,"j":6,"z":-15},{"i":6,"j":6,"z":-10},{"i":7,"j":6,"z":15},{"i":8,"j":6,"z":20},{"i":9,"j":6,"z":0},{"i":10,"j":6,"z":-15},{"i":11,"j":6,"z":0},{"i":12,"j":6,"z":20},{"i":13,"j":6,"z":10},{"i":14,"j":6,"z":-10},{"i":15,"j":6,"z":-15},{"i":16,"j":6,"z":0},{"i":17,"j":6,"z":15},{"i":18,"j":6,"z":5},{"i":19,"j":6,"z":-15},
      {"i":0,"j":5,"z":-10},{"i":1,"j":5,"z":-10},{"i":2,"j":5,"z":5},{"i":3,"j":5,"z":10},{"i":4,"j":5,"z":-5},{"i":5,"j":5,"z":-20},{"i":6,"j":5,"z":0},{"i":7,"j":5,"z":20},{"i":8,"j":5,"z":15},{"i":9,"j":5,"z":-10},{"i":10,"j":5,"z":-15},{"i":11,"j":5,"z":10},{"i":12,"j":5,"z":20},{"i":13,"j":5,"z":5},{"i":14,"j":5,"z":-15},{"i":15,"j":5,"z":-10},{"i":16,"j":5,"z":10},{"i":17,"j":5,"z":15},{"i":18,"j":5,"z":-5},{"i":19,"j":5,"z":-15},
      {"i":0,"j":4,"z":-15},{"i":1,"j":4,"z":-5},{"i":2,"j":4,"z":10},{"i":3,"j":4,"z":5},{"i":4,"j":4,"z":-15},{"i":5,"j":4,"z":-15},{"i":6,"j":4,"z":10},{"i":7,"j":4,"z":15},{"i":8,"j":4,"z":0},{"i":9,"j":4,"z":-15},{"i":10,"j":4,"z":-5},{"i":11,"j":4,"z":20},{"i":12,"j":4,"z":15},{"i":13,"j":4,"z":-5},{"i":14,"j":4,"z":-15},{"i":15,"j":4,"z":-5},{"i":16,"j":4,"z":15},{"i":17,"j":4,"z":5},{"i":18,"j":4,"z":-15},{"i":19,"j":4,"z":-10},
      {"i":0,"j":3,"z":-10},{"i":1,"j":3,"z":0},{"i":2,"j":3,"z":10},{"i":3,"j":3,"z":-5},{"i":4,"j":3,"z":-20},{"i":5,"j":3,"z":-5},{"i":6,"j":3,"z":15},{"i":7,"j":3,"z":10},{"i":8,"j":3,"z":-10},{"i":9,"j":3,"z":-15},{"i":10,"j":3,"z":5},{"i":11,"j":3,"z":20},{"i":12,"j":3,"z":10},{"i":13,"j":3,"z":-10},{"i":14,"j":3,"z":-10},{"i":15,"j":3,"z":5},{"i":16,"j":3,"z":15},{"i":17,"j":3,"z":-5},{"i":18,"j":3,"z":-15},{"i":19,"j":3,"z":-5},
      {"i":0,"j":2,"z":-5},{"i":1,"j":2,"z":5},{"i":2,"j":2,"z":5},{"i":3,"j":2,"z":-15},{"i":4,"j":2,"z":-15},{"i":5,"j":2,"z":5},{"i":6,"j":2,"z":15},{"i":7,"j":2,"z":0},{"i":8,"j":2,"z":-15},{"i":9,"j":2,"z":-5},{"i":10,"j":2,"z":10},{"i":11,"j":2,"z":15},{"i":12,"j":2,"z":5},{"i":13,"j":2,"z":-15},{"i":14,"j":2,"z":-5},{"i":15,"j":2,"z":10},{"i":16,"j":2,"z":10},{"i":17,"j":2,"z":-10},{"i":18,"j":2,"z":-10},{"i":19,"j":2,"z":0},
      {"i":0,"j":1,"z":0},{"i":1,"j":1,"z":10},{"i":2,"j":1,"z":-5},{"i":3,"j":1,"z":-15},{"i":4,"j":1,"z":-10},{"i":5,"j":1,"z":10},{"i":6,"j":1,"z":10},{"i":7,"j":1,"z":-5},{"i":8,"j":1,"z":-10},{"i":9,"j":1,"z":5},{"i":10,"j":1,"z":15},{"i":11,"j":1,"z":10},{"i":12,"j":1,"z":-5},{"i":13,"j":1,"z":-10},{"i":14,"j":1,"z":5},{"i":15,"j":1,"z":15},{"i":16,"j":1,"z":0},{"i":17,"j":1,"z":-15},{"i":18,"j":1,"z":-5},{"i":19,"j":1,"z":5},
      {"i":0,"j":0,"z":5},{"i":1,"j":0,"z":10},{"i":2,"j":0,"z":-10},{"i":3,"j":0,"z":-15},{"i":4,"j":0,"z":0},{"i":5,"j":0,"z":10},{"i":6,"j":0,"z":5},{"i":7,"j":0,"z":-10},{"i":8,"j":0,"z":-5},{"i":9,"j":0,"z":10},{"i":10,"j":0,"z":15},{"i":11,"j":0,"z":5},{"i":12,"j":0,"z":-10},{"i":13,"j":0,"z":-5},{"i":14,"j":0,"z":10},{"i":15,"j":0,"z":10},{"i":16,"j":0,"z":-5},{"i":17,"j":0,"z":-15},{"i":18,"j":0,"z":5},{"i":19,"j":0,"z":5}
    ],
    "R4": [
      {"i":0,"j":7,"z":-5},{"i":1,"j":7,"z":-15},{"i":2,"j":7,"z":-5},{"i":3,"j":7,"z":10},{"i":4,"j":7,"z":15},{"i":5,"j":7,"z":-15},{"i":6,"j":7,"z":-15},{"i":7,"j":7,"z":10},{"i":8,"j":7,"z":20},{"i":9,"j":7,"z":5},{"i":10,"j":7,"z":-15},{"i":11,"j":7,"z":-15},{"i":12,"j":7,"z":5},{"i":13,"j":7,"z":20},{"i":14,"j":7,"z":5},{"i":15,"j":7,"z":-20},{"i":16,"j":7,"z":-5},{"i":17,"j":7,"z":15},{"i":18,"j":7,"z":20},{"i":19,"j":7,"z":-5},
      {"i":0,"j":6,"z":-10},{"i":1,"j":6,"z":-15},{"i":2,"j":6,"z":0},{"i":3,"j":6,"z":15},{"i":4,"j":6,"z":5},{"i":5,"j":6,"z":-20},{"i":6,"j":6,"z":-5},{"i":7,"j":6,"z":15},{"i":8,"j":6,"z":20},{"i":9,"j":6,"z":-5},{"i":10,"j":6,"z":-20},{"i":11,"j":6,"z":-5},{"i":12,"j":6,"z":15},{"i":13,"j":6,"z":20},{"i":14,"j":6,"z":-10},{"i":15,"j":6,"z":-20},{"i":16,"j":6,"z":5},{"i":17,"j":6,"z":20},{"i":18,"j":6,"z":10},{"i":19,"j":6,"z":-15},
      {"i":0,"j":5,"z":-15},{"i":1,"j":5,"z":-10},{"i":2,"j":5,"z":5},{"i":3,"j":5,"z":15},{"i":4,"j":5,"z":-5},{"i":5,"j":5,"z":-20},{"i":6,"j":5,"z":5},{"i":7,"j":5,"z":20},{"i":8,"j":5,"z":10},{"i":9,"j":5,"z":-15},{"i":10,"j":5,"z":-20},{"i":11,"j":5,"z":5},{"i":12,"j":5,"z":20},{"i":13,"j":5,"z":10},{"i":14,"j":5,"z":-20},{"i":15,"j":5,"z":-10},{"i":16,"j":5,"z":15},{"i":17,"j":5,"z":20},{"i":18,"j":5,"z":-5},{"i":19,"j":5,"z":-15},
      {"i":0,"j":4,"z":-15},{"i":1,"j":4,"z":0},{"i":2,"j":4,"z":10},{"i":3,"j":4,"z":10},{"i":4,"j":4,"z":-15},{"i":5,"j":4,"z":-10},{"i":6,"j":4,"z":15},{"i":7,"j":4,"z":20},{"i":8,"j":4,"z":0},{"i":9,"j":4,"z":-20},{"i":10,"j":4,"z":-10},{"i":11,"j":4,"z":15},{"i":12,"j":4,"z":25},{"i":13,"j":4,"z":-5},{"i":14,"j":4,"z":-20},{"i":15,"j":4,"z":0},{"i":16,"j":4,"z":20},{"i":17,"j":4,"z":10},{"i":18,"j":4,"z":-15},{"i":19,"j":4,"z":-10},
      {"i":0,"j":3,"z":-10},{"i":1,"j":3,"z":5},{"i":2,"j":3,"z":15},{"i":3,"j":3,"z":0},{"i":4,"j":3,"z":-20},{"i":5,"j":3,"z":0},{"i":6,"j":3,"z":20},{"i":7,"j":3,"z":15},{"i":8,"j":3,"z":-10},{"i":9,"j":3,"z":-20},{"i":10,"j":3,"z":0},{"i":11,"j":3,"z":20},{"i":12,"j":3,"z":15},{"i":13,"j":3,"z":-15},{"i":14,"j":3,"z":-10},{"i":15,"j":3,"z":10},{"i":16,"j":3,"z":20},{"i":17,"j":3,"z":-5},{"i":18,"j":3,"z":-20},{"i":19,"j":3,"z":0},
      {"i":0,"j":2,"z":0},{"i":1,"j":2,"z":10},{"i":2,"j":2,"z":15},{"i":3,"j":2,"z":-10},{"i":4,"j":2,"z":-15},{"i":5,"j":2,"z":10},{"i":6,"j":2,"z":20},{"i":7,"j":2,"z":5},{"i":8,"j":2,"z":-15},{"i":9,"j":2,"z":-15},{"i":10,"j":2,"z":10},{"i":11,"j":2,"z":25},{"i":12,"j":2,"z":0},{"i":13,"j":2,"z":-20},{"i":14,"j":2,"z":0},{"i":15,"j":2,"z":15},{"i":16,"j":2,"z":15},{"i":17,"j":2,"z":-15},{"i":18,"j":2,"z":-15},{"i":19,"j":2,"z":5},
      {"i":0,"j":1,"z":5},{"i":1,"j":1,"z":15},{"i":2,"j":1,"z":5},{"i":3,"j":1,"z":-15},{"i":4,"j":1,"z":-5},{"i":5,"j":1,"z":20},{"i":6,"j":1,"z":15},{"i":7,"j":1,"z":-5},{"i":8,"j":1,"z":-20},{"i":9,"j":1,"z":-5},{"i":10,"j":1,"z":20},{"i":11,"j":1,"z":20},{"i":12,"j":1,"z":-10},{"i":13,"j":1,"z":-15},{"i":14,"j":1,"z":10},{"i":15,"j":1,"z":20},{"i":16,"j":1,"z":5},{"i":17,"j":1,"z":-20},{"i":18,"j":1,"z":-5},{"i":19,"j":1,"z":10},
      {"i":0,"j":0,"z":10},{"i":1,"j":0,"z":15},{"i":2,"j":0,"z":-5},{"i":3,"j":0,"z":-15},{"i":4,"j":0,"z":5},{"i":5,"j":0,"z":20},{"i":6,"j":0,"z":10},{"i":7,"j":0,"z":-10},{"i":8,"j":0,"z":-20},{"i":9,"j":0,"z":5},{"i":10,"j":0,"z":20},{"i":11,"j":0,"z":15},{"i":12,"j":0,"z":-15},{"i":13,"j":0,"z":-10},{"i":14,"j":0,"z":15},{"i":15,"j":0,"z":20},{"i":16,"j":0,"z":-5},{"i":17,"j":0,"z":-20},{"i":18,"j":0,"z":5},{"i":19,"j":0,"z":10}
    ],
    "R5": [
      {"i":0,"j":7,"z":5},{"i":1,"j":7,"z":20},{"i":2,"j":7,"z":5},{"i":3,"j":7,"z":-25},{"i":4,"j":7,"z":-25},{"i":5,"j":7,"z":-10},{"i":6,"j":7,"z":5},{"i":7,"j":7,"z":15},{"i":8,"j":7,"z":25},{"i":9,"j":7,"z":30},{"i":10,"j":7,"z":10},{"i":11,"j":7,"z":-20},{"i":12,"j":7,"z":-20},{"i":13,"j":7,"z":5},{"i":14,"j":7,"z":20},{"i":15,"j":7,"z":-15},{"i":16,"j":7,"z":-10},{"i":17,"j":7,"z":20},{"i":18,"j":7,"z":25},{"i":19,"j":7,"z":-10},
      {"i":0,"j":6,"z":10},{"i":1,"j":6,"z":15},{"i":2,"j":6,"z":-10},{"i":3,"j":6,"z":-30},{"i":4,"j":6,"z":-20},{"i":5,"j":6,"z":0},{"i":6,"j":6,"z":10},{"i":7,"j":6,"z":20},{"i":8,"j":6,"z":30},{"i":9,"j":6,"z":25},{"i":10,"j":6,"z":-5},{"i":11,"j":6,"z":-25},{"i":12,"j":6,"z":-10},{"i":13,"j":6,"z":15},{"i":14,"j":6,"z":10},{"i":15,"j":6,"z":-25},{"i":16,"j":6,"z":5},{"i":17,"j":6,"z":25},{"i":18,"j":6,"z":15},{"i":19,"j":6,"z":-20},
      {"i":0,"j":5,"z":20},{"i":1,"j":5,"z":5},{"i":2,"j":5,"z":-25},{"i":3,"j":5,"z":-25},{"i":4,"j":5,"z":-5},{"i":5,"j":5,"z":10},{"i":6,"j":5,"z":15},{"i":7,"j":5,"z":25},{"i":8,"j":5,"z":30},{"i":9,"j":5,"z":15},{"i":10,"j":5,"z":-20},{"i":11,"j":5,"z":-20},{"i":12,"j":5,"z":5},{"i":13,"j":5,"z":20},{"i":14,"j":5,"z":-10},{"i":15,"j":5,"z":-15},{"i":16,"j":5,"z":20},{"i":17,"j":5,"z":30},{"i":18,"j":5,"z":0},{"i":19,"j":5,"z":-15},
      {"i":0,"j":4,"z":15},{"i":1,"j":4,"z":-5},{"i":2,"j":4,"z":-30},{"i":3,"j":4,"z":-15},{"i":4,"j":4,"z":0},{"i":5,"j":4,"z":15},{"i":6,"j":4,"z":20},{"i":7,"j":4,"z":30},{"i":8,"j":4,"z":25},{"i":9,"j":4,"z":0},{"i":10,"j":4,"z":-25},{"i":11,"j":4,"z":-10},{"i":12,"j":4,"z":15},{"i":13,"j":4,"z":10},{"i":14,"j":4,"z":-25},{"i":15,"j":4,"z":5},{"i":16,"j":4,"z":25},{"i":17,"j":4,"z":20},{"i":18,"j":4,"z":-15},{"i":19,"j":4,"z":-5},
      {"i":0,"j":3,"z":10},{"i":1,"j":3,"z":-15},{"i":2,"j":3,"z":-25},{"i":3,"j":3,"z":-10},{"i":4,"j":3,"z":5},{"i":5,"j":3,"z":20},{"i":6,"j":3,"z":25},{"i":7,"j":3,"z":35},{"i":8,"j":3,"z":20},{"i":9,"j":3,"z":-15},{"i":10,"j":3,"z":-25},{"i":11,"j":3,"z":5},{"i":12,"j":3,"z":20},{"i":13,"j":3,"z":0},{"i":14,"j":3,"z":-20},{"i":15,"j":3,"z":15},{"i":16,"j":3,"z":30},{"i":17,"j":3,"z":10},{"i":18,"j":3,"z":-20},{"i":19,"j":3,"z":5},
      {"i":0,"j":2,"z":-5},{"i":1,"j":2,"z":-25},{"i":2,"j":2,"z":-15},{"i":3,"j":2,"z":0},{"i":4,"j":2,"z":15},{"i":5,"j":2,"z":20},{"i":6,"j":2,"z":30},{"i":7,"j":2,"z":30},{"i":8,"j":2,"z":5},{"i":9,"j":2,"z":-25},{"i":10,"j":2,"z":-10},{"i":11,"j":2,"z":20},{"i":12,"j":2,"z":15},{"i":13,"j":2,"z":-20},{"i":14,"j":2,"z":0},{"i":15,"j":2,"z":30},{"i":16,"j":2,"z":25},{"i":17,"j":2,"z":-10},{"i":18,"j":2,"z":0},{"i":19,"j":2,"z":15},
      {"i":0,"j":1,"z":-10},{"i":1,"j":1,"z":-25},{"i":2,"j":1,"z":-10},{"i":3,"j":1,"z":5},{"i":4,"j":1,"z":20},{"i":5,"j":1,"z":25},{"i":6,"j":1,"z":35},{"i":7,"j":1,"z":20},{"i":8,"j":1,"z":-5},{"i":9,"j":1,"z":-30},{"i":10,"j":1,"z":0},{"i":11,"j":1,"z":25},{"i":12,"j":1,"z":5},{"i":13,"j":1,"z":-25},{"i":14,"j":1,"z":10},{"i":15,"j":1,"z":35},{"i":16,"j":1,"z":15},{"i":17,"j":1,"z":-15},{"i":18,"j":1,"z":5},{"i":19,"j":1,"z":10},
      {"i":0,"j":0,"z":-15},{"i":1,"j":0,"z":-20},{"i":2,"j":0,"z":0},{"i":3,"j":0,"z":10},{"i":4,"j":0,"z":15},{"i":5,"j":0,"z":30},{"i":6,"j":0,"z":30},{"i":7,"j":0,"z":25},{"i":8,"j":0,"z":-15},{"i":9,"j":0,"z":-25},{"i":10,"j":0,"z":10},{"i":11,"j":0,"z":20},{"i":12,"j":0,"z":-10},{"i":13,"j":0,"z":-20},{"i":14,"j":0,"z":20},{"i":15,"j":0,"z":30},{"i":16,"j":0,"z":5},{"i":17,"j":0,"z":-20},{"i":18,"j":0,"z":15},{"i":19,"j":0,"z":5}
    ]
  },
  "hconcat": [
    {
      "spacing": -2,
      "resolve": {"scale": {"stroke": "independent", "strokeDash": "independent"}},
      "vconcat": [
        {
          "width": 344, "height": 10, "view": {"stroke": null},
          "layer": [
            {"data": {"values": [{"lo": -150, "hi": 150}]},
             "mark": {"type": "rect", "fill": {"gradient": "linear", "x1": 0, "y1": 0, "x2": 1, "y2": 0, "stops": [{"offset": 0, "color": "#3b4cc0"}, {"offset": 0.125, "color": "#6282ea"}, {"offset": 0.25, "color": "#8db0fe"}, {"offset": 0.375, "color": "#b8d0f9"}, {"offset": 0.5, "color": "#dddddd"}, {"offset": 0.625, "color": "#f5c4ac"}, {"offset": 0.75, "color": "#f49a7b"}, {"offset": 0.875, "color": "#de614d"}, {"offset": 1, "color": "#b40426"}]}},
             "encoding": {"x": {"field": "lo", "type": "quantitative", "scale": {"domain": [-150, 150], "nice": false, "zero": false}, "axis": {"orient": "top", "values": [-150, -100, -50, 0, 50, 100, 150], "title": "⟨z⟩ (pc)", "titleFontSize": 21, "labelFontSize": 14, "tickSize": -3, "labelPadding": 6, "titlePadding": 8}}, "x2": {"field": "hi"}}},
            {"data": {"values": [{"k": "a"}, {"k": "b"}, {"k": "c"}, {"k": "d"}]},
             "mark": {"type": "line"},
             "encoding": {
               "stroke": {"field": "k", "type": "nominal", "scale": {"domain": ["a", "b", "c", "d"], "range": ["#262626", "#262626", "#262626", "#00ee00"]},
                 "legend": {"title": null, "orient": "none", "legendX": -5, "legendY": -101, "columns": 2, "symbolType": "stroke", "symbolSize": 900, "symbolStrokeWidth": 2, "labelFontSize": 14.5, "labelColor": "#333333", "labelOffset": 10, "labelLimit": 300, "columnPadding": 24, "rowPadding": 4, "padding": 4, "strokeColor": "#cccccc", "cornerRadius": 3, "fillColor": "#ffffff",
                   "labelExpr": "datum.value == 'a' ? 'Ωₚ,₁ = −12.8 km/s/kpc' : datum.value == 'b' ? 'Ωₚ,₁ = 43.0 km/s/kpc' : datum.value == 'c' ? 'Ωₚ,₂ = 15.3 km/s/kpc' : 'Solar azimuth'",
                   "encode": {"symbols": {"update": {"strokeWidth": {"signal": "datum.value === 'd' ? 6 : 2"}}}}}},
               "strokeDash": {"field": "k", "type": "nominal", "scale": {"domain": ["a", "b", "c", "d"], "range": [[1, 0], [6, 3.5], [1.5, 2.5], [1, 0]]},
                 "legend": {"title": null, "orient": "none", "legendX": -5, "legendY": -101, "columns": 2, "symbolType": "stroke", "symbolSize": 900, "symbolStrokeWidth": 2, "labelFontSize": 14.5, "labelColor": "#333333", "labelOffset": 10, "labelLimit": 300, "columnPadding": 24, "rowPadding": 4, "padding": 4, "strokeColor": "#cccccc", "cornerRadius": 3, "fillColor": "#ffffff",
                   "labelExpr": "datum.value == 'a' ? 'Ωₚ,₁ = −12.8 km/s/kpc' : datum.value == 'b' ? 'Ωₚ,₁ = 43.0 km/s/kpc' : datum.value == 'c' ? 'Ωₚ,₂ = 15.3 km/s/kpc' : 'Solar azimuth'",
                   "encode": {"symbols": {"update": {"strokeWidth": {"signal": "datum.value === 'd' ? 6 : 2"}}}}}}}}
          ]
        },
        {
          "spacing": 2.5,
          "vconcat": [
            {"width": 344, "height": 102, "resolve": {"scale": {"x": "independent", "y": "independent"}},
             "layer": [
              {"data": {"name": "L1"}, "mark": {"type": "rect", "strokeWidth": 0.5},
               "encoding": {"x": {"field": "i", "type": "ordinal", "axis": null, "scale": {"paddingInner": 0, "paddingOuter": 0}}, "y": {"field": "j", "type": "ordinal", "axis": null, "sort": "descending", "scale": {"paddingInner": 0, "paddingOuter": 0}},
                "fill": {"field": "z", "type": "quantitative", "legend": null, "scale": {"domain": [-150, -112.5, -75, -37.5, 0, 37.5, 75, 112.5, 150], "range": ["#3b4cc0", "#6282ea", "#8db0fe", "#b8d0f9", "#dddddd", "#f5c4ac", "#f49a7b", "#de614d", "#b40426"], "interpolate": "rgb", "clamp": true}},
                "stroke": {"field": "z", "type": "quantitative", "legend": null, "scale": {"domain": [-150, -112.5, -75, -37.5, 0, 37.5, 75, 112.5, 150], "range": ["#3b4cc0", "#6282ea", "#8db0fe", "#b8d0f9", "#dddddd", "#f5c4ac", "#f49a7b", "#de614d", "#b40426"], "interpolate": "rgb", "clamp": true}}}},
              {"layer": [
                {"data": {"name": "linesL"}, "transform": [{"filter": "datum.k == 'a'"}], "mark": {"type": "line", "stroke": "#1a1a1a", "strokeWidth": 1.8, "opacity": 0.85, "clip": true},
                 "encoding": {"x": {"field": "t", "type": "quantitative", "scale": {"domain": [10, 12], "nice": false, "zero": false}, "axis": {"values": [10, 10.5, 11, 11.5, 12], "labels": false, "title": null, "tickSize": -4}}, "y": {"field": "f", "type": "quantitative", "scale": {"domain": [-88, 257], "nice": false, "zero": false}, "axis": {"values": [-45, 0, 45, 90, 135, 180, 225], "tickSize": -4, "labels": false, "title": "ϕw (°)", "titleFontSize": 20, "titlePadding": 34}}, "detail": {"field": "g", "type": "nominal"}}},
                {"data": {"name": "linesL"}, "transform": [{"filter": "datum.k == 'b'"}], "mark": {"type": "line", "stroke": "#1a1a1a", "strokeWidth": 1.8, "opacity": 0.85, "strokeDash": [6, 3.5], "clip": true},
                 "encoding": {"x": {"field": "t", "type": "quantitative", "scale": {"domain": [10, 12], "nice": false, "zero": false}}, "y": {"field": "f", "type": "quantitative", "scale": {"domain": [-88, 257], "nice": false, "zero": false}}, "detail": {"field": "g", "type": "nominal"}}},
                {"data": {"name": "linesL"}, "transform": [{"filter": "datum.k == 'c'"}], "mark": {"type": "line", "stroke": "#1a1a1a", "strokeWidth": 2, "opacity": 0.85, "strokeDash": [1.5, 2.6], "clip": true},
                 "encoding": {"x": {"field": "t", "type": "quantitative", "scale": {"domain": [10, 12], "nice": false, "zero": false}}, "y": {"field": "f", "type": "quantitative", "scale": {"domain": [-88, 257], "nice": false, "zero": false}}, "detail": {"field": "g", "type": "nominal"}}},
                {"data": {"name": "yticks"}, "mark": {"type": "text", "align": "right", "baseline": "middle", "dx": -3, "fontSize": 12.5, "color": "#222222"},
                 "encoding": {"x": {"datum": 10, "type": "quantitative", "scale": {"domain": [10, 12], "nice": false, "zero": false}}, "y": {"field": "v", "type": "quantitative", "scale": {"domain": [-88, 257], "nice": false, "zero": false}}, "text": {"field": "v", "type": "quantitative", "format": "d"}}},
                {"data": {"values": [{"lab": "5.5-6.5 kpc"}]}, "layer": [
                  {"mark": {"type": "rect", "fill": "#e6e6e6", "stroke": "#444444", "strokeWidth": 1.2}, "encoding": {"x": {"datum": 10, "type": "quantitative", "scale": {"domain": [10, 12], "nice": false, "zero": false}}, "x2": {"datum": 10.477}, "y": {"datum": 257, "type": "quantitative", "scale": {"domain": [-88, 257], "nice": false, "zero": false}}, "y2": {"datum": 180}}},
                  {"mark": {"type": "text", "fontSize": 13.5, "color": "#222222", "align": "center", "baseline": "middle"}, "encoding": {"x": {"datum": 10.2385, "type": "quantitative", "scale": {"domain": [10, 12], "nice": false, "zero": false}}, "y": {"datum": 218.5, "type": "quantitative", "scale": {"domain": [-88, 257], "nice": false, "zero": false}}, "text": {"field": "lab"}}}]}
              ]}
            ]},
            {"width": 344, "height": 102, "resolve": {"scale": {"x": "independent", "y": "independent"}},
             "layer": [
              {"data": {"name": "L2"}, "mark": {"type": "rect", "strokeWidth": 0.5},
               "encoding": {"x": {"field": "i", "type": "ordinal", "axis": null, "scale": {"paddingInner": 0, "paddingOuter": 0}}, "y": {"field": "j", "type": "ordinal", "axis": null, "sort": "descending", "scale": {"paddingInner": 0, "paddingOuter": 0}},
                "fill": {"field": "z", "type": "quantitative", "legend": null, "scale": {"domain": [-150, -112.5, -75, -37.5, 0, 37.5, 75, 112.5, 150], "range": ["#3b4cc0", "#6282ea", "#8db0fe", "#b8d0f9", "#dddddd", "#f5c4ac", "#f49a7b", "#de614d", "#b40426"], "interpolate": "rgb", "clamp": true}},
                "stroke": {"field": "z", "type": "quantitative", "legend": null, "scale": {"domain": [-150, -112.5, -75, -37.5, 0, 37.5, 75, 112.5, 150], "range": ["#3b4cc0", "#6282ea", "#8db0fe", "#b8d0f9", "#dddddd", "#f5c4ac", "#f49a7b", "#de614d", "#b40426"], "interpolate": "rgb", "clamp": true}}}},
              {"layer": [
                {"data": {"name": "linesL"}, "transform": [{"filter": "datum.k == 'a'"}], "mark": {"type": "line", "stroke": "#1a1a1a", "strokeWidth": 1.8, "opacity": 0.85, "clip": true},
                 "encoding": {"x": {"field": "t", "type": "quantitative", "scale": {"domain": [10, 12], "nice": false, "zero": false}, "axis": {"values": [10, 10.5, 11, 11.5, 12], "labels": false, "title": null, "tickSize": -4}}, "y": {"field": "f", "type": "quantitative", "scale": {"domain": [-88, 257], "nice": false, "zero": false}, "axis": {"values": [-45, 0, 45, 90, 135, 180, 225], "tickSize": -4, "labels": false, "title": "ϕw (°)", "titleFontSize": 20, "titlePadding": 34}}, "detail": {"field": "g", "type": "nominal"}}},
                {"data": {"name": "linesL"}, "transform": [{"filter": "datum.k == 'b'"}], "mark": {"type": "line", "stroke": "#1a1a1a", "strokeWidth": 1.8, "opacity": 0.85, "strokeDash": [6, 3.5], "clip": true},
                 "encoding": {"x": {"field": "t", "type": "quantitative", "scale": {"domain": [10, 12], "nice": false, "zero": false}}, "y": {"field": "f", "type": "quantitative", "scale": {"domain": [-88, 257], "nice": false, "zero": false}}, "detail": {"field": "g", "type": "nominal"}}},
                {"data": {"name": "linesL"}, "transform": [{"filter": "datum.k == 'c'"}], "mark": {"type": "line", "stroke": "#1a1a1a", "strokeWidth": 2, "opacity": 0.85, "strokeDash": [1.5, 2.6], "clip": true},
                 "encoding": {"x": {"field": "t", "type": "quantitative", "scale": {"domain": [10, 12], "nice": false, "zero": false}}, "y": {"field": "f", "type": "quantitative", "scale": {"domain": [-88, 257], "nice": false, "zero": false}}, "detail": {"field": "g", "type": "nominal"}}},
                {"data": {"name": "yticks"}, "mark": {"type": "text", "align": "right", "baseline": "middle", "dx": -3, "fontSize": 12.5, "color": "#222222"},
                 "encoding": {"x": {"datum": 10, "type": "quantitative", "scale": {"domain": [10, 12], "nice": false, "zero": false}}, "y": {"field": "v", "type": "quantitative", "scale": {"domain": [-88, 257], "nice": false, "zero": false}}, "text": {"field": "v", "type": "quantitative", "format": "d"}}},
                {"data": {"values": [{"lab": "6.5-7.5 kpc"}]}, "layer": [
                  {"mark": {"type": "rect", "fill": "#e6e6e6", "stroke": "#444444", "strokeWidth": 1.2}, "encoding": {"x": {"datum": 10, "type": "quantitative", "scale": {"domain": [10, 12], "nice": false, "zero": false}}, "x2": {"datum": 10.477}, "y": {"datum": 257, "type": "quantitative", "scale": {"domain": [-88, 257], "nice": false, "zero": false}}, "y2": {"datum": 180}}},
                  {"mark": {"type": "text", "fontSize": 13.5, "color": "#222222", "align": "center", "baseline": "middle"}, "encoding": {"x": {"datum": 10.2385, "type": "quantitative", "scale": {"domain": [10, 12], "nice": false, "zero": false}}, "y": {"datum": 218.5, "type": "quantitative", "scale": {"domain": [-88, 257], "nice": false, "zero": false}}, "text": {"field": "lab"}}}]}
              ]}
            ]},
            {"width": 344, "height": 102, "resolve": {"scale": {"x": "independent", "y": "independent"}},
             "layer": [
              {"data": {"name": "L3"}, "mark": {"type": "rect", "strokeWidth": 0.5},
               "encoding": {"x": {"field": "i", "type": "ordinal", "axis": null, "scale": {"paddingInner": 0, "paddingOuter": 0}}, "y": {"field": "j", "type": "ordinal", "axis": null, "sort": "descending", "scale": {"paddingInner": 0, "paddingOuter": 0}},
                "fill": {"field": "z", "type": "quantitative", "legend": null, "scale": {"domain": [-150, -112.5, -75, -37.5, 0, 37.5, 75, 112.5, 150], "range": ["#3b4cc0", "#6282ea", "#8db0fe", "#b8d0f9", "#dddddd", "#f5c4ac", "#f49a7b", "#de614d", "#b40426"], "interpolate": "rgb", "clamp": true}},
                "stroke": {"field": "z", "type": "quantitative", "legend": null, "scale": {"domain": [-150, -112.5, -75, -37.5, 0, 37.5, 75, 112.5, 150], "range": ["#3b4cc0", "#6282ea", "#8db0fe", "#b8d0f9", "#dddddd", "#f5c4ac", "#f49a7b", "#de614d", "#b40426"], "interpolate": "rgb", "clamp": true}}}},
              {"layer": [
                {"data": {"values": [{"az": -17}]}, "mark": {"type": "rule", "stroke": "#111111", "strokeWidth": 6}, "encoding": {"y": {"field": "az", "type": "quantitative", "scale": {"domain": [-88, 257], "nice": false, "zero": false}, "axis": {"values": [-45, 0, 45, 90, 135, 180, 225], "tickSize": -4, "labels": false, "title": "ϕw (°)", "titleFontSize": 20, "titlePadding": 34}}}},
                {"data": {"values": [{"az": -17}]}, "mark": {"type": "rule", "stroke": "#00ff00", "strokeWidth": 4}, "encoding": {"y": {"field": "az", "type": "quantitative", "scale": {"domain": [-88, 257], "nice": false, "zero": false}}}},
                {"data": {"name": "linesL"}, "transform": [{"filter": "datum.k == 'a'"}], "mark": {"type": "line", "stroke": "#1a1a1a", "strokeWidth": 1.8, "opacity": 0.85, "clip": true},
                 "encoding": {"x": {"field": "t", "type": "quantitative", "scale": {"domain": [10, 12], "nice": false, "zero": false}, "axis": {"values": [10, 10.5, 11, 11.5, 12], "labels": false, "title": null, "tickSize": -4}}, "y": {"field": "f", "type": "quantitative", "scale": {"domain": [-88, 257], "nice": false, "zero": false}, "axis": {"values": [-45, 0, 45, 90, 135, 180, 225], "tickSize": -4, "labels": false, "title": "ϕw (°)", "titleFontSize": 20, "titlePadding": 34}}, "detail": {"field": "g", "type": "nominal"}}},
                {"data": {"name": "linesL"}, "transform": [{"filter": "datum.k == 'b'"}], "mark": {"type": "line", "stroke": "#1a1a1a", "strokeWidth": 1.8, "opacity": 0.85, "strokeDash": [6, 3.5], "clip": true},
                 "encoding": {"x": {"field": "t", "type": "quantitative", "scale": {"domain": [10, 12], "nice": false, "zero": false}}, "y": {"field": "f", "type": "quantitative", "scale": {"domain": [-88, 257], "nice": false, "zero": false}}, "detail": {"field": "g", "type": "nominal"}}},
                {"data": {"name": "linesL"}, "transform": [{"filter": "datum.k == 'c'"}], "mark": {"type": "line", "stroke": "#1a1a1a", "strokeWidth": 2, "opacity": 0.85, "strokeDash": [1.5, 2.6], "clip": true},
                 "encoding": {"x": {"field": "t", "type": "quantitative", "scale": {"domain": [10, 12], "nice": false, "zero": false}}, "y": {"field": "f", "type": "quantitative", "scale": {"domain": [-88, 257], "nice": false, "zero": false}}, "detail": {"field": "g", "type": "nominal"}}},
                {"data": {"name": "yticks"}, "mark": {"type": "text", "align": "right", "baseline": "middle", "dx": -3, "fontSize": 12.5, "color": "#222222"},
                 "encoding": {"x": {"datum": 10, "type": "quantitative", "scale": {"domain": [10, 12], "nice": false, "zero": false}}, "y": {"field": "v", "type": "quantitative", "scale": {"domain": [-88, 257], "nice": false, "zero": false}}, "text": {"field": "v", "type": "quantitative", "format": "d"}}},
                {"data": {"values": [{"lab": "7.5-8.5 kpc"}]}, "layer": [
                  {"mark": {"type": "rect", "fill": "#e6e6e6", "stroke": "#444444", "strokeWidth": 1.2}, "encoding": {"x": {"datum": 10, "type": "quantitative", "scale": {"domain": [10, 12], "nice": false, "zero": false}}, "x2": {"datum": 10.477}, "y": {"datum": 257, "type": "quantitative", "scale": {"domain": [-88, 257], "nice": false, "zero": false}}, "y2": {"datum": 180}}},
                  {"mark": {"type": "text", "fontSize": 13.5, "color": "#222222", "align": "center", "baseline": "middle"}, "encoding": {"x": {"datum": 10.2385, "type": "quantitative", "scale": {"domain": [10, 12], "nice": false, "zero": false}}, "y": {"datum": 218.5, "type": "quantitative", "scale": {"domain": [-88, 257], "nice": false, "zero": false}}, "text": {"field": "lab"}}}]}
              ]}
            ]},
            {"width": 344, "height": 102, "resolve": {"scale": {"x": "independent", "y": "independent"}},
             "layer": [
              {"data": {"name": "L4"}, "mark": {"type": "rect", "strokeWidth": 0.5},
               "encoding": {"x": {"field": "i", "type": "ordinal", "axis": null, "scale": {"paddingInner": 0, "paddingOuter": 0}}, "y": {"field": "j", "type": "ordinal", "axis": null, "sort": "descending", "scale": {"paddingInner": 0, "paddingOuter": 0}},
                "fill": {"field": "z", "type": "quantitative", "legend": null, "scale": {"domain": [-150, -112.5, -75, -37.5, 0, 37.5, 75, 112.5, 150], "range": ["#3b4cc0", "#6282ea", "#8db0fe", "#b8d0f9", "#dddddd", "#f5c4ac", "#f49a7b", "#de614d", "#b40426"], "interpolate": "rgb", "clamp": true}},
                "stroke": {"field": "z", "type": "quantitative", "legend": null, "scale": {"domain": [-150, -112.5, -75, -37.5, 0, 37.5, 75, 112.5, 150], "range": ["#3b4cc0", "#6282ea", "#8db0fe", "#b8d0f9", "#dddddd", "#f5c4ac", "#f49a7b", "#de614d", "#b40426"], "interpolate": "rgb", "clamp": true}}}},
              {"layer": [
                {"data": {"name": "linesL"}, "transform": [{"filter": "datum.k == 'a'"}], "mark": {"type": "line", "stroke": "#1a1a1a", "strokeWidth": 1.8, "opacity": 0.85, "clip": true},
                 "encoding": {"x": {"field": "t", "type": "quantitative", "scale": {"domain": [10, 12], "nice": false, "zero": false}, "axis": {"values": [10, 10.5, 11, 11.5, 12], "labels": false, "title": null, "tickSize": -4}}, "y": {"field": "f", "type": "quantitative", "scale": {"domain": [-88, 257], "nice": false, "zero": false}, "axis": {"values": [-45, 0, 45, 90, 135, 180, 225], "tickSize": -4, "labels": false, "title": "ϕw (°)", "titleFontSize": 20, "titlePadding": 34}}, "detail": {"field": "g", "type": "nominal"}}},
                {"data": {"name": "linesL"}, "transform": [{"filter": "datum.k == 'b'"}], "mark": {"type": "line", "stroke": "#1a1a1a", "strokeWidth": 1.8, "opacity": 0.85, "strokeDash": [6, 3.5], "clip": true},
                 "encoding": {"x": {"field": "t", "type": "quantitative", "scale": {"domain": [10, 12], "nice": false, "zero": false}}, "y": {"field": "f", "type": "quantitative", "scale": {"domain": [-88, 257], "nice": false, "zero": false}}, "detail": {"field": "g", "type": "nominal"}}},
                {"data": {"name": "linesL"}, "transform": [{"filter": "datum.k == 'c'"}], "mark": {"type": "line", "stroke": "#1a1a1a", "strokeWidth": 2, "opacity": 0.85, "strokeDash": [1.5, 2.6], "clip": true},
                 "encoding": {"x": {"field": "t", "type": "quantitative", "scale": {"domain": [10, 12], "nice": false, "zero": false}}, "y": {"field": "f", "type": "quantitative", "scale": {"domain": [-88, 257], "nice": false, "zero": false}}, "detail": {"field": "g", "type": "nominal"}}},
                {"data": {"name": "yticks"}, "mark": {"type": "text", "align": "right", "baseline": "middle", "dx": -3, "fontSize": 12.5, "color": "#222222"},
                 "encoding": {"x": {"datum": 10, "type": "quantitative", "scale": {"domain": [10, 12], "nice": false, "zero": false}}, "y": {"field": "v", "type": "quantitative", "scale": {"domain": [-88, 257], "nice": false, "zero": false}}, "text": {"field": "v", "type": "quantitative", "format": "d"}}},
                {"data": {"values": [{"lab": "8.5-9.5 kpc"}]}, "layer": [
                  {"mark": {"type": "rect", "fill": "#e6e6e6", "stroke": "#444444", "strokeWidth": 1.2}, "encoding": {"x": {"datum": 10, "type": "quantitative", "scale": {"domain": [10, 12], "nice": false, "zero": false}}, "x2": {"datum": 10.477}, "y": {"datum": 257, "type": "quantitative", "scale": {"domain": [-88, 257], "nice": false, "zero": false}}, "y2": {"datum": 180}}},
                  {"mark": {"type": "text", "fontSize": 13.5, "color": "#222222", "align": "center", "baseline": "middle"}, "encoding": {"x": {"datum": 10.2385, "type": "quantitative", "scale": {"domain": [10, 12], "nice": false, "zero": false}}, "y": {"datum": 218.5, "type": "quantitative", "scale": {"domain": [-88, 257], "nice": false, "zero": false}}, "text": {"field": "lab"}}}]}
              ]}
            ]},
            {"width": 344, "height": 102, "resolve": {"scale": {"x": "independent", "y": "independent"}},
             "layer": [
              {"data": {"name": "L5"}, "mark": {"type": "rect", "strokeWidth": 0.5},
               "encoding": {"x": {"field": "i", "type": "ordinal", "axis": null, "scale": {"paddingInner": 0, "paddingOuter": 0}}, "y": {"field": "j", "type": "ordinal", "axis": null, "sort": "descending", "scale": {"paddingInner": 0, "paddingOuter": 0}},
                "fill": {"field": "z", "type": "quantitative", "legend": null, "scale": {"domain": [-150, -112.5, -75, -37.5, 0, 37.5, 75, 112.5, 150], "range": ["#3b4cc0", "#6282ea", "#8db0fe", "#b8d0f9", "#dddddd", "#f5c4ac", "#f49a7b", "#de614d", "#b40426"], "interpolate": "rgb", "clamp": true}},
                "stroke": {"field": "z", "type": "quantitative", "legend": null, "scale": {"domain": [-150, -112.5, -75, -37.5, 0, 37.5, 75, 112.5, 150], "range": ["#3b4cc0", "#6282ea", "#8db0fe", "#b8d0f9", "#dddddd", "#f5c4ac", "#f49a7b", "#de614d", "#b40426"], "interpolate": "rgb", "clamp": true}}}},
              {"layer": [
                {"data": {"name": "linesL"}, "transform": [{"filter": "datum.k == 'a'"}], "mark": {"type": "line", "stroke": "#1a1a1a", "strokeWidth": 1.8, "opacity": 0.85, "clip": true},
                 "encoding": {"x": {"field": "t", "type": "quantitative", "scale": {"domain": [10, 12], "nice": false, "zero": false}, "axis": {"values": [10, 10.5, 11, 11.5, 12], "format": ".1f", "tickSize": -4, "labelFontSize": 15, "labelPadding": 8, "title": "t (Gyr)", "titleFontSize": 20, "titlePadding": 3}}, "y": {"field": "f", "type": "quantitative", "scale": {"domain": [-88, 257], "nice": false, "zero": false}, "axis": {"values": [-45, 0, 45, 90, 135, 180, 225], "tickSize": -4, "labels": false, "title": "ϕw (°)", "titleFontSize": 20, "titlePadding": 34}}, "detail": {"field": "g", "type": "nominal"}}},
                {"data": {"name": "linesL"}, "transform": [{"filter": "datum.k == 'b'"}], "mark": {"type": "line", "stroke": "#1a1a1a", "strokeWidth": 1.8, "opacity": 0.85, "strokeDash": [6, 3.5], "clip": true},
                 "encoding": {"x": {"field": "t", "type": "quantitative", "scale": {"domain": [10, 12], "nice": false, "zero": false}}, "y": {"field": "f", "type": "quantitative", "scale": {"domain": [-88, 257], "nice": false, "zero": false}}, "detail": {"field": "g", "type": "nominal"}}},
                {"data": {"name": "linesL"}, "transform": [{"filter": "datum.k == 'c'"}], "mark": {"type": "line", "stroke": "#1a1a1a", "strokeWidth": 2, "opacity": 0.85, "strokeDash": [1.5, 2.6], "clip": true},
                 "encoding": {"x": {"field": "t", "type": "quantitative", "scale": {"domain": [10, 12], "nice": false, "zero": false}}, "y": {"field": "f", "type": "quantitative", "scale": {"domain": [-88, 257], "nice": false, "zero": false}}, "detail": {"field": "g", "type": "nominal"}}},
                {"data": {"name": "yticks"}, "mark": {"type": "text", "align": "right", "baseline": "middle", "dx": -3, "fontSize": 12.5, "color": "#222222"},
                 "encoding": {"x": {"datum": 10, "type": "quantitative", "scale": {"domain": [10, 12], "nice": false, "zero": false}}, "y": {"field": "v", "type": "quantitative", "scale": {"domain": [-88, 257], "nice": false, "zero": false}}, "text": {"field": "v", "type": "quantitative", "format": "d"}}},
                {"data": {"values": [{"lab": "9.5-10.5 kpc"}]}, "layer": [
                  {"mark": {"type": "rect", "fill": "#e6e6e6", "stroke": "#444444", "strokeWidth": 1.2}, "encoding": {"x": {"datum": 10, "type": "quantitative", "scale": {"domain": [10, 12], "nice": false, "zero": false}}, "x2": {"datum": 10.523}, "y": {"datum": 257, "type": "quantitative", "scale": {"domain": [-88, 257], "nice": false, "zero": false}}, "y2": {"datum": 180}}},
                  {"mark": {"type": "text", "fontSize": 13.5, "color": "#222222", "align": "center", "baseline": "middle"}, "encoding": {"x": {"datum": 10.2615, "type": "quantitative", "scale": {"domain": [10, 12], "nice": false, "zero": false}}, "y": {"datum": 218.5, "type": "quantitative", "scale": {"domain": [-88, 257], "nice": false, "zero": false}}, "text": {"field": "lab"}}}]}
              ]}
            ]}
          ]
        }
      ]
    },
    {
      "spacing": -2,
      "resolve": {"scale": {"stroke": "independent", "strokeDash": "independent"}},
      "vconcat": [
        {
          "width": 344, "height": 10, "view": {"stroke": null},
          "layer": [
            {"data": {"values": [{"lo": -35, "hi": 35}]},
             "mark": {"type": "rect", "fill": {"gradient": "linear", "x1": 0, "y1": 0, "x2": 1, "y2": 0, "stops": [{"offset": 0, "color": "#3b4cc0"}, {"offset": 0.125, "color": "#6282ea"}, {"offset": 0.25, "color": "#8db0fe"}, {"offset": 0.375, "color": "#b8d0f9"}, {"offset": 0.5, "color": "#dddddd"}, {"offset": 0.625, "color": "#f5c4ac"}, {"offset": 0.75, "color": "#f49a7b"}, {"offset": 0.875, "color": "#de614d"}, {"offset": 1, "color": "#b40426"}]}},
             "encoding": {"x": {"field": "lo", "type": "quantitative", "scale": {"domain": [-35, 35], "nice": false, "zero": false}, "axis": {"orient": "top", "values": [-30, -20, -10, 0, 10, 20, 30], "title": "⟨z⟩ (pc)", "titleFontSize": 21, "labelFontSize": 14, "tickSize": -3, "labelPadding": 6, "titlePadding": 8}}, "x2": {"field": "hi"}}},
            {"data": {"values": [{"k": "a"}, {"k": "b"}, {"k": "c"}]},
             "mark": {"type": "line"},
             "encoding": {
               "stroke": {"field": "k", "type": "nominal", "scale": {"domain": ["a", "b", "c"], "range": ["#262626", "#262626", "#262626"]},
                 "legend": {"title": null, "orient": "none", "legendX": -27, "legendY": -101, "columns": 2, "symbolType": "stroke", "symbolSize": 900, "symbolStrokeWidth": 2, "labelFontSize": 14.5, "labelColor": "#333333", "labelOffset": 10, "labelLimit": 300, "columnPadding": 24, "rowPadding": 4, "padding": 4, "strokeColor": "#cccccc", "cornerRadius": 3, "fillColor": "#ffffff",
                   "labelExpr": "datum.value == 'a' ? 'Ωₚ,₁ = −12.8 km/s/kpc' : datum.value == 'b' ? 'Ωₚ,₁ = 24.0 km/s/kpc' : 'Ωₚ,₂ = 11.6 km/s/kpc'"}},
               "strokeDash": {"field": "k", "type": "nominal", "scale": {"domain": ["a", "b", "c"], "range": [[1, 0], [6, 3.5], [1.5, 2.5]]},
                 "legend": {"title": null, "orient": "none", "legendX": -27, "legendY": -101, "columns": 2, "symbolType": "stroke", "symbolSize": 900, "symbolStrokeWidth": 2, "labelFontSize": 14.5, "labelColor": "#333333", "labelOffset": 10, "labelLimit": 300, "columnPadding": 24, "rowPadding": 4, "padding": 4, "strokeColor": "#cccccc", "cornerRadius": 3, "fillColor": "#ffffff",
                   "labelExpr": "datum.value == 'a' ? 'Ωₚ,₁ = −12.8 km/s/kpc' : datum.value == 'b' ? 'Ωₚ,₁ = 24.0 km/s/kpc' : 'Ωₚ,₂ = 11.6 km/s/kpc'"}}}}
          ]
        },
        {
          "spacing": 2.5,
          "vconcat": [
            {"width": 344, "height": 102, "resolve": {"scale": {"x": "independent", "y": "independent"}},
             "layer": [
              {"data": {"name": "R1"}, "mark": {"type": "rect", "strokeWidth": 0.5},
               "encoding": {"x": {"field": "i", "type": "ordinal", "axis": null, "scale": {"paddingInner": 0, "paddingOuter": 0}}, "y": {"field": "j", "type": "ordinal", "axis": null, "sort": "descending", "scale": {"paddingInner": 0, "paddingOuter": 0}},
                "fill": {"field": "z", "type": "quantitative", "legend": null, "scale": {"domain": [-35, -26.25, -17.5, -8.75, 0, 8.75, 17.5, 26.25, 35], "range": ["#3b4cc0", "#6282ea", "#8db0fe", "#b8d0f9", "#dddddd", "#f5c4ac", "#f49a7b", "#de614d", "#b40426"], "interpolate": "rgb", "clamp": true}},
                "stroke": {"field": "z", "type": "quantitative", "legend": null, "scale": {"domain": [-35, -26.25, -17.5, -8.75, 0, 8.75, 17.5, 26.25, 35], "range": ["#3b4cc0", "#6282ea", "#8db0fe", "#b8d0f9", "#dddddd", "#f5c4ac", "#f49a7b", "#de614d", "#b40426"], "interpolate": "rgb", "clamp": true}}}},
              {"layer": [
                {"data": {"name": "linesR"}, "transform": [{"filter": "datum.k == 'a'"}], "mark": {"type": "line", "stroke": "#1a1a1a", "strokeWidth": 1.8, "opacity": 0.85, "clip": true},
                 "encoding": {"x": {"field": "t", "type": "quantitative", "scale": {"domain": [10, 12], "nice": false, "zero": false}, "axis": {"values": [10, 10.5, 11, 11.5, 12], "labels": false, "title": null, "tickSize": -4}}, "y": {"field": "f", "type": "quantitative", "scale": {"domain": [-88, 257], "nice": false, "zero": false}, "axis": {"values": [-45, 0, 45, 90, 135, 180, 225], "tickSize": -4, "labels": false, "title": "ϕ (°)", "titleFontSize": 20, "titlePadding": 34}}, "detail": {"field": "g", "type": "nominal"}}},
                {"data": {"name": "linesR"}, "transform": [{"filter": "datum.k == 'b'"}], "mark": {"type": "line", "stroke": "#1a1a1a", "strokeWidth": 1.8, "opacity": 0.85, "strokeDash": [6, 3.5], "clip": true},
                 "encoding": {"x": {"field": "t", "type": "quantitative", "scale": {"domain": [10, 12], "nice": false, "zero": false}}, "y": {"field": "f", "type": "quantitative", "scale": {"domain": [-88, 257], "nice": false, "zero": false}}, "detail": {"field": "g", "type": "nominal"}}},
                {"data": {"name": "linesR"}, "transform": [{"filter": "datum.k == 'c'"}], "mark": {"type": "line", "stroke": "#1a1a1a", "strokeWidth": 2, "opacity": 0.85, "strokeDash": [1.5, 2.6], "clip": true},
                 "encoding": {"x": {"field": "t", "type": "quantitative", "scale": {"domain": [10, 12], "nice": false, "zero": false}}, "y": {"field": "f", "type": "quantitative", "scale": {"domain": [-88, 257], "nice": false, "zero": false}}, "detail": {"field": "g", "type": "nominal"}}},
                {"data": {"name": "yticks"}, "mark": {"type": "text", "align": "right", "baseline": "middle", "dx": -3, "fontSize": 12.5, "color": "#222222"},
                 "encoding": {"x": {"datum": 10, "type": "quantitative", "scale": {"domain": [10, 12], "nice": false, "zero": false}}, "y": {"field": "v", "type": "quantitative", "scale": {"domain": [-88, 257], "nice": false, "zero": false}}, "text": {"field": "v", "type": "quantitative", "format": "d"}}},
                {"data": {"values": [{"lab": "5.5-6.5 kpc"}]}, "layer": [
                  {"mark": {"type": "rect", "fill": "#e6e6e6", "stroke": "#444444", "strokeWidth": 1.2}, "encoding": {"x": {"datum": 10, "type": "quantitative", "scale": {"domain": [10, 12], "nice": false, "zero": false}}, "x2": {"datum": 10.477}, "y": {"datum": 257, "type": "quantitative", "scale": {"domain": [-88, 257], "nice": false, "zero": false}}, "y2": {"datum": 180}}},
                  {"mark": {"type": "text", "fontSize": 13.5, "color": "#222222", "align": "center", "baseline": "middle"}, "encoding": {"x": {"datum": 10.2385, "type": "quantitative", "scale": {"domain": [10, 12], "nice": false, "zero": false}}, "y": {"datum": 218.5, "type": "quantitative", "scale": {"domain": [-88, 257], "nice": false, "zero": false}}, "text": {"field": "lab"}}}]}
              ]}
            ]},
            {"width": 344, "height": 102, "resolve": {"scale": {"x": "independent", "y": "independent"}},
             "layer": [
              {"data": {"name": "R2"}, "mark": {"type": "rect", "strokeWidth": 0.5},
               "encoding": {"x": {"field": "i", "type": "ordinal", "axis": null, "scale": {"paddingInner": 0, "paddingOuter": 0}}, "y": {"field": "j", "type": "ordinal", "axis": null, "sort": "descending", "scale": {"paddingInner": 0, "paddingOuter": 0}},
                "fill": {"field": "z", "type": "quantitative", "legend": null, "scale": {"domain": [-35, -26.25, -17.5, -8.75, 0, 8.75, 17.5, 26.25, 35], "range": ["#3b4cc0", "#6282ea", "#8db0fe", "#b8d0f9", "#dddddd", "#f5c4ac", "#f49a7b", "#de614d", "#b40426"], "interpolate": "rgb", "clamp": true}},
                "stroke": {"field": "z", "type": "quantitative", "legend": null, "scale": {"domain": [-35, -26.25, -17.5, -8.75, 0, 8.75, 17.5, 26.25, 35], "range": ["#3b4cc0", "#6282ea", "#8db0fe", "#b8d0f9", "#dddddd", "#f5c4ac", "#f49a7b", "#de614d", "#b40426"], "interpolate": "rgb", "clamp": true}}}},
              {"layer": [
                {"data": {"name": "linesR"}, "transform": [{"filter": "datum.k == 'a'"}], "mark": {"type": "line", "stroke": "#1a1a1a", "strokeWidth": 1.8, "opacity": 0.85, "clip": true},
                 "encoding": {"x": {"field": "t", "type": "quantitative", "scale": {"domain": [10, 12], "nice": false, "zero": false}, "axis": {"values": [10, 10.5, 11, 11.5, 12], "labels": false, "title": null, "tickSize": -4}}, "y": {"field": "f", "type": "quantitative", "scale": {"domain": [-88, 257], "nice": false, "zero": false}, "axis": {"values": [-45, 0, 45, 90, 135, 180, 225], "tickSize": -4, "labels": false, "title": "ϕ (°)", "titleFontSize": 20, "titlePadding": 34}}, "detail": {"field": "g", "type": "nominal"}}},
                {"data": {"name": "linesR"}, "transform": [{"filter": "datum.k == 'b'"}], "mark": {"type": "line", "stroke": "#1a1a1a", "strokeWidth": 1.8, "opacity": 0.85, "strokeDash": [6, 3.5], "clip": true},
                 "encoding": {"x": {"field": "t", "type": "quantitative", "scale": {"domain": [10, 12], "nice": false, "zero": false}}, "y": {"field": "f", "type": "quantitative", "scale": {"domain": [-88, 257], "nice": false, "zero": false}}, "detail": {"field": "g", "type": "nominal"}}},
                {"data": {"name": "linesR"}, "transform": [{"filter": "datum.k == 'c'"}], "mark": {"type": "line", "stroke": "#1a1a1a", "strokeWidth": 2, "opacity": 0.85, "strokeDash": [1.5, 2.6], "clip": true},
                 "encoding": {"x": {"field": "t", "type": "quantitative", "scale": {"domain": [10, 12], "nice": false, "zero": false}}, "y": {"field": "f", "type": "quantitative", "scale": {"domain": [-88, 257], "nice": false, "zero": false}}, "detail": {"field": "g", "type": "nominal"}}},
                {"data": {"name": "yticks"}, "mark": {"type": "text", "align": "right", "baseline": "middle", "dx": -3, "fontSize": 12.5, "color": "#222222"},
                 "encoding": {"x": {"datum": 10, "type": "quantitative", "scale": {"domain": [10, 12], "nice": false, "zero": false}}, "y": {"field": "v", "type": "quantitative", "scale": {"domain": [-88, 257], "nice": false, "zero": false}}, "text": {"field": "v", "type": "quantitative", "format": "d"}}},
                {"data": {"values": [{"lab": "6.5-7.5 kpc"}]}, "layer": [
                  {"mark": {"type": "rect", "fill": "#e6e6e6", "stroke": "#444444", "strokeWidth": 1.2}, "encoding": {"x": {"datum": 10, "type": "quantitative", "scale": {"domain": [10, 12], "nice": false, "zero": false}}, "x2": {"datum": 10.477}, "y": {"datum": 257, "type": "quantitative", "scale": {"domain": [-88, 257], "nice": false, "zero": false}}, "y2": {"datum": 180}}},
                  {"mark": {"type": "text", "fontSize": 13.5, "color": "#222222", "align": "center", "baseline": "middle"}, "encoding": {"x": {"datum": 10.2385, "type": "quantitative", "scale": {"domain": [10, 12], "nice": false, "zero": false}}, "y": {"datum": 218.5, "type": "quantitative", "scale": {"domain": [-88, 257], "nice": false, "zero": false}}, "text": {"field": "lab"}}}]}
              ]}
            ]},
            {"width": 344, "height": 102, "resolve": {"scale": {"x": "independent", "y": "independent"}},
             "layer": [
              {"data": {"name": "R3"}, "mark": {"type": "rect", "strokeWidth": 0.5},
               "encoding": {"x": {"field": "i", "type": "ordinal", "axis": null, "scale": {"paddingInner": 0, "paddingOuter": 0}}, "y": {"field": "j", "type": "ordinal", "axis": null, "sort": "descending", "scale": {"paddingInner": 0, "paddingOuter": 0}},
                "fill": {"field": "z", "type": "quantitative", "legend": null, "scale": {"domain": [-35, -26.25, -17.5, -8.75, 0, 8.75, 17.5, 26.25, 35], "range": ["#3b4cc0", "#6282ea", "#8db0fe", "#b8d0f9", "#dddddd", "#f5c4ac", "#f49a7b", "#de614d", "#b40426"], "interpolate": "rgb", "clamp": true}},
                "stroke": {"field": "z", "type": "quantitative", "legend": null, "scale": {"domain": [-35, -26.25, -17.5, -8.75, 0, 8.75, 17.5, 26.25, 35], "range": ["#3b4cc0", "#6282ea", "#8db0fe", "#b8d0f9", "#dddddd", "#f5c4ac", "#f49a7b", "#de614d", "#b40426"], "interpolate": "rgb", "clamp": true}}}},
              {"layer": [
                {"data": {"name": "linesR"}, "transform": [{"filter": "datum.k == 'a'"}], "mark": {"type": "line", "stroke": "#1a1a1a", "strokeWidth": 1.8, "opacity": 0.85, "clip": true},
                 "encoding": {"x": {"field": "t", "type": "quantitative", "scale": {"domain": [10, 12], "nice": false, "zero": false}, "axis": {"values": [10, 10.5, 11, 11.5, 12], "labels": false, "title": null, "tickSize": -4}}, "y": {"field": "f", "type": "quantitative", "scale": {"domain": [-88, 257], "nice": false, "zero": false}, "axis": {"values": [-45, 0, 45, 90, 135, 180, 225], "tickSize": -4, "labels": false, "title": "ϕ (°)", "titleFontSize": 20, "titlePadding": 34}}, "detail": {"field": "g", "type": "nominal"}}},
                {"data": {"name": "linesR"}, "transform": [{"filter": "datum.k == 'b'"}], "mark": {"type": "line", "stroke": "#1a1a1a", "strokeWidth": 1.8, "opacity": 0.85, "strokeDash": [6, 3.5], "clip": true},
                 "encoding": {"x": {"field": "t", "type": "quantitative", "scale": {"domain": [10, 12], "nice": false, "zero": false}}, "y": {"field": "f", "type": "quantitative", "scale": {"domain": [-88, 257], "nice": false, "zero": false}}, "detail": {"field": "g", "type": "nominal"}}},
                {"data": {"name": "linesR"}, "transform": [{"filter": "datum.k == 'c'"}], "mark": {"type": "line", "stroke": "#1a1a1a", "strokeWidth": 2, "opacity": 0.85, "strokeDash": [1.5, 2.6], "clip": true},
                 "encoding": {"x": {"field": "t", "type": "quantitative", "scale": {"domain": [10, 12], "nice": false, "zero": false}}, "y": {"field": "f", "type": "quantitative", "scale": {"domain": [-88, 257], "nice": false, "zero": false}}, "detail": {"field": "g", "type": "nominal"}}},
                {"data": {"name": "yticks"}, "mark": {"type": "text", "align": "right", "baseline": "middle", "dx": -3, "fontSize": 12.5, "color": "#222222"},
                 "encoding": {"x": {"datum": 10, "type": "quantitative", "scale": {"domain": [10, 12], "nice": false, "zero": false}}, "y": {"field": "v", "type": "quantitative", "scale": {"domain": [-88, 257], "nice": false, "zero": false}}, "text": {"field": "v", "type": "quantitative", "format": "d"}}},
                {"data": {"values": [{"lab": "7.5-8.5 kpc"}]}, "layer": [
                  {"mark": {"type": "rect", "fill": "#e6e6e6", "stroke": "#444444", "strokeWidth": 1.2}, "encoding": {"x": {"datum": 10, "type": "quantitative", "scale": {"domain": [10, 12], "nice": false, "zero": false}}, "x2": {"datum": 10.477}, "y": {"datum": 257, "type": "quantitative", "scale": {"domain": [-88, 257], "nice": false, "zero": false}}, "y2": {"datum": 180}}},
                  {"mark": {"type": "text", "fontSize": 13.5, "color": "#222222", "align": "center", "baseline": "middle"}, "encoding": {"x": {"datum": 10.2385, "type": "quantitative", "scale": {"domain": [10, 12], "nice": false, "zero": false}}, "y": {"datum": 218.5, "type": "quantitative", "scale": {"domain": [-88, 257], "nice": false, "zero": false}}, "text": {"field": "lab"}}}]}
              ]}
            ]},
            {"width": 344, "height": 102, "resolve": {"scale": {"x": "independent", "y": "independent"}},
             "layer": [
              {"data": {"name": "R4"}, "mark": {"type": "rect", "strokeWidth": 0.5},
               "encoding": {"x": {"field": "i", "type": "ordinal", "axis": null, "scale": {"paddingInner": 0, "paddingOuter": 0}}, "y": {"field": "j", "type": "ordinal", "axis": null, "sort": "descending", "scale": {"paddingInner": 0, "paddingOuter": 0}},
                "fill": {"field": "z", "type": "quantitative", "legend": null, "scale": {"domain": [-35, -26.25, -17.5, -8.75, 0, 8.75, 17.5, 26.25, 35], "range": ["#3b4cc0", "#6282ea", "#8db0fe", "#b8d0f9", "#dddddd", "#f5c4ac", "#f49a7b", "#de614d", "#b40426"], "interpolate": "rgb", "clamp": true}},
                "stroke": {"field": "z", "type": "quantitative", "legend": null, "scale": {"domain": [-35, -26.25, -17.5, -8.75, 0, 8.75, 17.5, 26.25, 35], "range": ["#3b4cc0", "#6282ea", "#8db0fe", "#b8d0f9", "#dddddd", "#f5c4ac", "#f49a7b", "#de614d", "#b40426"], "interpolate": "rgb", "clamp": true}}}},
              {"layer": [
                {"data": {"name": "linesR"}, "transform": [{"filter": "datum.k == 'a'"}], "mark": {"type": "line", "stroke": "#1a1a1a", "strokeWidth": 1.8, "opacity": 0.85, "clip": true},
                 "encoding": {"x": {"field": "t", "type": "quantitative", "scale": {"domain": [10, 12], "nice": false, "zero": false}, "axis": {"values": [10, 10.5, 11, 11.5, 12], "labels": false, "title": null, "tickSize": -4}}, "y": {"field": "f", "type": "quantitative", "scale": {"domain": [-88, 257], "nice": false, "zero": false}, "axis": {"values": [-45, 0, 45, 90, 135, 180, 225], "tickSize": -4, "labels": false, "title": "ϕ (°)", "titleFontSize": 20, "titlePadding": 34}}, "detail": {"field": "g", "type": "nominal"}}},
                {"data": {"name": "linesR"}, "transform": [{"filter": "datum.k == 'b'"}], "mark": {"type": "line", "stroke": "#1a1a1a", "strokeWidth": 1.8, "opacity": 0.85, "strokeDash": [6, 3.5], "clip": true},
                 "encoding": {"x": {"field": "t", "type": "quantitative", "scale": {"domain": [10, 12], "nice": false, "zero": false}}, "y": {"field": "f", "type": "quantitative", "scale": {"domain": [-88, 257], "nice": false, "zero": false}}, "detail": {"field": "g", "type": "nominal"}}},
                {"data": {"name": "linesR"}, "transform": [{"filter": "datum.k == 'c'"}], "mark": {"type": "line", "stroke": "#1a1a1a", "strokeWidth": 2, "opacity": 0.85, "strokeDash": [1.5, 2.6], "clip": true},
                 "encoding": {"x": {"field": "t", "type": "quantitative", "scale": {"domain": [10, 12], "nice": false, "zero": false}}, "y": {"field": "f", "type": "quantitative", "scale": {"domain": [-88, 257], "nice": false, "zero": false}}, "detail": {"field": "g", "type": "nominal"}}},
                {"data": {"name": "yticks"}, "mark": {"type": "text", "align": "right", "baseline": "middle", "dx": -3, "fontSize": 12.5, "color": "#222222"},
                 "encoding": {"x": {"datum": 10, "type": "quantitative", "scale": {"domain": [10, 12], "nice": false, "zero": false}}, "y": {"field": "v", "type": "quantitative", "scale": {"domain": [-88, 257], "nice": false, "zero": false}}, "text": {"field": "v", "type": "quantitative", "format": "d"}}},
                {"data": {"values": [{"lab": "8.5-9.5 kpc"}]}, "layer": [
                  {"mark": {"type": "rect", "fill": "#e6e6e6", "stroke": "#444444", "strokeWidth": 1.2}, "encoding": {"x": {"datum": 10, "type": "quantitative", "scale": {"domain": [10, 12], "nice": false, "zero": false}}, "x2": {"datum": 10.477}, "y": {"datum": 257, "type": "quantitative", "scale": {"domain": [-88, 257], "nice": false, "zero": false}}, "y2": {"datum": 180}}},
                  {"mark": {"type": "text", "fontSize": 13.5, "color": "#222222", "align": "center", "baseline": "middle"}, "encoding": {"x": {"datum": 10.2385, "type": "quantitative", "scale": {"domain": [10, 12], "nice": false, "zero": false}}, "y": {"datum": 218.5, "type": "quantitative", "scale": {"domain": [-88, 257], "nice": false, "zero": false}}, "text": {"field": "lab"}}}]}
              ]}
            ]},
            {"width": 344, "height": 102, "resolve": {"scale": {"x": "independent", "y": "independent"}},
             "layer": [
              {"data": {"name": "R5"}, "mark": {"type": "rect", "strokeWidth": 0.5},
               "encoding": {"x": {"field": "i", "type": "ordinal", "axis": null, "scale": {"paddingInner": 0, "paddingOuter": 0}}, "y": {"field": "j", "type": "ordinal", "axis": null, "sort": "descending", "scale": {"paddingInner": 0, "paddingOuter": 0}},
                "fill": {"field": "z", "type": "quantitative", "legend": null, "scale": {"domain": [-35, -26.25, -17.5, -8.75, 0, 8.75, 17.5, 26.25, 35], "range": ["#3b4cc0", "#6282ea", "#8db0fe", "#b8d0f9", "#dddddd", "#f5c4ac", "#f49a7b", "#de614d", "#b40426"], "interpolate": "rgb", "clamp": true}},
                "stroke": {"field": "z", "type": "quantitative", "legend": null, "scale": {"domain": [-35, -26.25, -17.5, -8.75, 0, 8.75, 17.5, 26.25, 35], "range": ["#3b4cc0", "#6282ea", "#8db0fe", "#b8d0f9", "#dddddd", "#f5c4ac", "#f49a7b", "#de614d", "#b40426"], "interpolate": "rgb", "clamp": true}}}},
              {"layer": [
                {"data": {"name": "linesR"}, "transform": [{"filter": "datum.k == 'a'"}], "mark": {"type": "line", "stroke": "#1a1a1a", "strokeWidth": 1.8, "opacity": 0.85, "clip": true},
                 "encoding": {"x": {"field": "t", "type": "quantitative", "scale": {"domain": [10, 12], "nice": false, "zero": false}, "axis": {"values": [10, 10.5, 11, 11.5, 12], "format": ".1f", "tickSize": -4, "labelFontSize": 15, "labelPadding": 8, "title": "t (Gyr)", "titleFontSize": 20, "titlePadding": 3}}, "y": {"field": "f", "type": "quantitative", "scale": {"domain": [-88, 257], "nice": false, "zero": false}, "axis": {"values": [-45, 0, 45, 90, 135, 180, 225], "tickSize": -4, "labels": false, "title": "ϕ (°)", "titleFontSize": 20, "titlePadding": 34}}, "detail": {"field": "g", "type": "nominal"}}},
                {"data": {"name": "linesR"}, "transform": [{"filter": "datum.k == 'b'"}], "mark": {"type": "line", "stroke": "#1a1a1a", "strokeWidth": 1.8, "opacity": 0.85, "strokeDash": [6, 3.5], "clip": true},
                 "encoding": {"x": {"field": "t", "type": "quantitative", "scale": {"domain": [10, 12], "nice": false, "zero": false}}, "y": {"field": "f", "type": "quantitative", "scale": {"domain": [-88, 257], "nice": false, "zero": false}}, "detail": {"field": "g", "type": "nominal"}}},
                {"data": {"name": "linesR"}, "transform": [{"filter": "datum.k == 'c'"}], "mark": {"type": "line", "stroke": "#1a1a1a", "strokeWidth": 2, "opacity": 0.85, "strokeDash": [1.5, 2.6], "clip": true},
                 "encoding": {"x": {"field": "t", "type": "quantitative", "scale": {"domain": [10, 12], "nice": false, "zero": false}}, "y": {"field": "f", "type": "quantitative", "scale": {"domain": [-88, 257], "nice": false, "zero": false}}, "detail": {"field": "g", "type": "nominal"}}},
                {"data": {"name": "yticks"}, "mark": {"type": "text", "align": "right", "baseline": "middle", "dx": -3, "fontSize": 12.5, "color": "#222222"},
                 "encoding": {"x": {"datum": 10, "type": "quantitative", "scale": {"domain": [10, 12], "nice": false, "zero": false}}, "y": {"field": "v", "type": "quantitative", "scale": {"domain": [-88, 257], "nice": false, "zero": false}}, "text": {"field": "v", "type": "quantitative", "format": "d"}}},
                {"data": {"values": [{"lab": "9.5-10.5 kpc"}]}, "layer": [
                  {"mark": {"type": "rect", "fill": "#e6e6e6", "stroke": "#444444", "strokeWidth": 1.2}, "encoding": {"x": {"datum": 10, "type": "quantitative", "scale": {"domain": [10, 12], "nice": false, "zero": false}}, "x2": {"datum": 10.523}, "y": {"datum": 257, "type": "quantitative", "scale": {"domain": [-88, 257], "nice": false, "zero": false}}, "y2": {"datum": 180}}},
                  {"mark": {"type": "text", "fontSize": 13.5, "color": "#222222", "align": "center", "baseline": "middle"}, "encoding": {"x": {"datum": 10.2615, "type": "quantitative", "scale": {"domain": [10, 12], "nice": false, "zero": false}}, "y": {"datum": 218.5, "type": "quantitative", "scale": {"domain": [-88, 257], "nice": false, "zero": false}}, "text": {"field": "lab"}}}]}
              ]}
            ]}
          ]
        }
      ]
    }
  ]
}
